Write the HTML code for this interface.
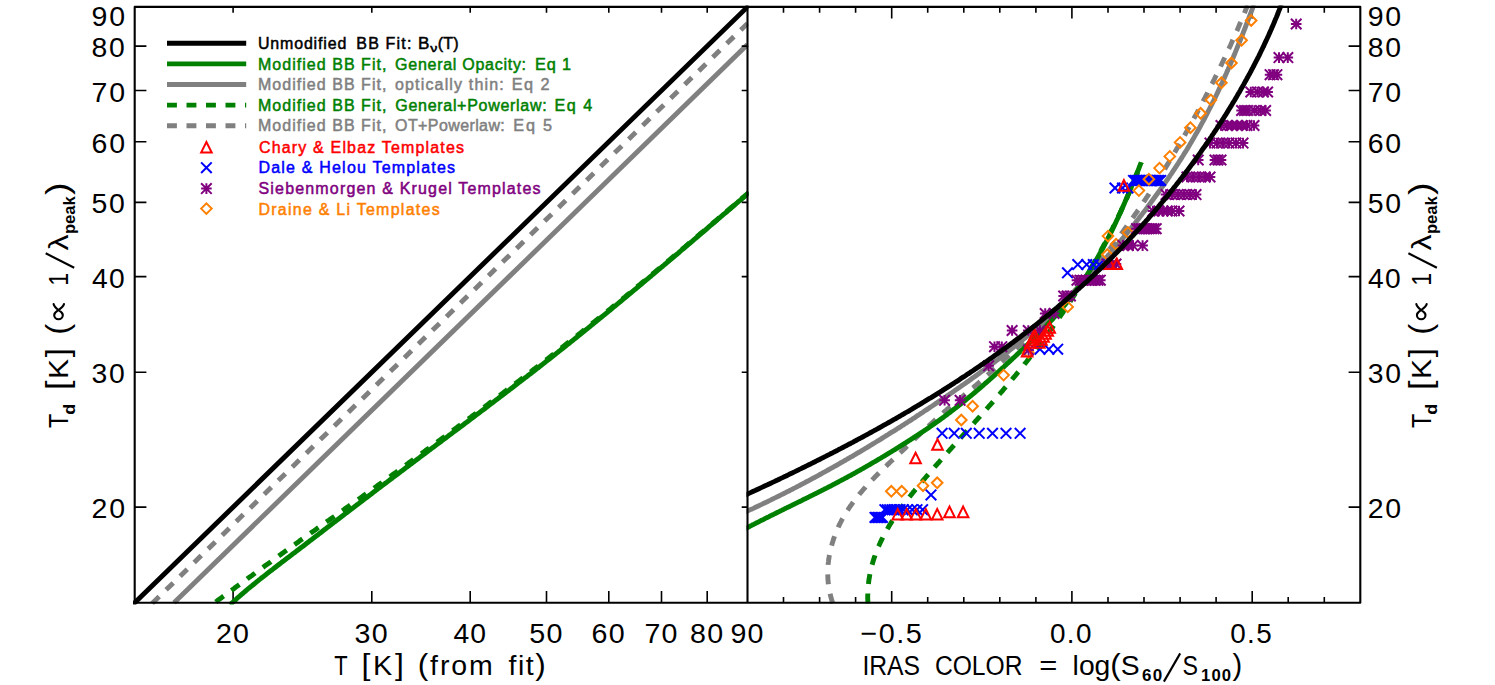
<!DOCTYPE html>
<html><head><meta charset="utf-8"><title>Dust temperature vs fit temperature and IRAS color</title>
<style>html,body{margin:0;padding:0;background:#fff}body{width:1495px;height:685px;overflow:hidden}svg{display:block}text{font-family:"Liberation Sans",sans-serif}</style></head>
<body>
<svg width="1495" height="685" viewBox="0 0 1495 685">
<defs>
<clipPath id="cl"><rect x="133.0" y="5.4" width="615.5" height="599.2"/></clipPath>
<clipPath id="cr"><rect x="746.5" y="5.4" width="614.8" height="598.9"/></clipPath>
</defs>
<rect width="1495" height="685" fill="#fff"/>
<path d="M134.7 507.1h11.7M1360.3 507.1h-11.7M134.7 372.3h11.7M1360.3 372.3h-11.7M134.7 276.6h11.7M1360.3 276.6h-11.7M134.7 202.4h11.7M1360.3 202.4h-11.7M134.7 141.7h11.7M1360.3 141.7h-11.7M134.7 90.5h11.7M1360.3 90.5h-11.7M134.7 46.1h11.7M1360.3 46.1h-11.7M233.1 602.8v-11.7M233.1 6.9v5.8M371.8 602.8v-11.7M371.8 6.9v5.8M470.2 602.8v-11.7M470.2 6.9v5.8M546.5 602.8v-11.7M546.5 6.9v5.8M608.8 602.8v-11.7M608.8 6.9v5.8M661.5 602.8v-11.7M661.5 6.9v5.8M707.2 602.8v-11.7M707.2 6.9v5.8M783.5 602.8v-5.8M783.5 6.9v5.8M819.6 602.8v-5.8M819.6 6.9v5.8M855.6 602.8v-5.8M855.6 6.9v5.8M891.7 602.8v-11.7M891.7 6.9v11.7M927.7 602.8v-5.8M927.7 6.9v5.8M963.8 602.8v-5.8M963.8 6.9v5.8M999.8 602.8v-5.8M999.8 6.9v5.8M1035.9 602.8v-5.8M1035.9 6.9v5.8M1071.9 602.8v-11.7M1071.9 6.9v11.7M1108.0 602.8v-5.8M1108.0 6.9v5.8M1144.0 602.8v-5.8M1144.0 6.9v5.8M1180.1 602.8v-5.8M1180.1 6.9v5.8M1216.1 602.8v-5.8M1216.1 6.9v5.8M1252.2 602.8v-11.7M1252.2 6.9v11.7M1288.2 602.8v-5.8M1288.2 6.9v5.8M1324.3 602.8v-5.8M1324.3 6.9v5.8" fill="none" stroke="#000" stroke-width="1.6"/>
<g clip-path="url(#cl)" fill="none" stroke-width="4.9" stroke-linecap="butt" stroke-linejoin="round">
<path d="M134.7 602.8 L747.5 6.9" stroke="#000" stroke-linecap="round"/>
<path d="M230.0 604.8 L231.6 603.3 L233.3 601.8 L234.9 600.3 L236.6 598.8 L238.2 597.3 L239.9 595.9 L241.6 594.4 L243.3 593.0 L244.9 591.6 L246.6 590.1 L248.3 588.7 L250.0 587.3 L251.8 585.9 L253.5 584.5 L255.2 583.1 L256.9 581.7 L258.6 580.3 L260.4 578.9 L262.1 577.5 L263.9 576.2 L265.6 574.8 L267.3 573.4 L269.1 572.1 L270.8 570.7 L272.6 569.4 L274.4 568.0 L276.1 566.7 L277.9 565.3 L279.6 564.0 L281.4 562.6 L283.2 561.3 L284.9 559.9 L286.7 558.6 L288.5 557.3 L290.2 555.9 L292.0 554.6 L293.7 553.2 L295.5 551.9 L297.3 550.5 L299.0 549.2 L300.8 547.8 L302.6 546.5 L304.3 545.2 L306.1 543.8 L307.8 542.5 L309.6 541.1 L311.4 539.8 L313.1 538.4 L314.9 537.1 L316.6 535.7 L318.4 534.4 L320.2 533.0 L321.9 531.7 L323.7 530.3 L325.4 529.0 L327.2 527.6 L329.0 526.3 L330.7 524.9 L332.5 523.6 L334.2 522.2 L336.0 520.9 L337.8 519.5 L339.5 518.2 L341.3 516.8 L343.0 515.5 L344.8 514.1 L346.6 512.8 L348.3 511.5 L350.1 510.1 L351.9 508.8 L353.6 507.4 L355.4 506.1 L357.1 504.7 L358.9 503.4 L360.7 502.0 L362.4 500.7 L364.2 499.3 L366.0 498.0 L367.7 496.7 L369.5 495.3 L371.3 494.0 L373.0 492.6 L374.8 491.3 L376.5 489.9 L378.3 488.6 L380.1 487.3 L381.9 485.9 L383.6 484.6 L385.4 483.2 L387.2 481.9 L388.9 480.6 L390.7 479.2 L392.5 477.9 L394.2 476.6 L396.0 475.2 L397.8 473.9 L399.6 472.6 L401.3 471.2 L403.1 469.9 L404.9 468.6 L406.6 467.2 L408.4 465.9 L410.2 464.6 L412.0 463.2 L413.7 461.9 L415.5 460.6 L417.3 459.2 L419.1 457.9 L420.8 456.6 L422.6 455.3 L424.4 453.9 L426.2 452.6 L427.9 451.3 L429.7 449.9 L431.5 448.6 L433.3 447.3 L435.0 445.9 L436.8 444.6 L438.6 443.3 L440.4 442.0 L442.1 440.6 L443.9 439.3 L445.7 438.0 L447.5 436.6 L449.2 435.3 L451.0 434.0 L452.8 432.6 L454.6 431.3 L456.3 430.0 L458.1 428.7 L459.9 427.3 L461.7 426.0 L463.4 424.7 L465.2 423.3 L467.0 422.0 L468.7 420.7 L470.5 419.3 L472.3 418.0 L474.1 416.7 L475.8 415.3 L477.6 414.0 L479.4 412.7 L481.1 411.3 L482.9 410.0 L484.7 408.7 L486.5 407.3 L488.2 406.0 L490.0 404.6 L491.8 403.3 L493.5 402.0 L495.3 400.6 L497.1 399.3 L498.8 397.9 L500.6 396.6 L502.4 395.3 L504.1 393.9 L505.9 392.6 L507.6 391.2 L509.4 389.9 L511.2 388.5 L512.9 387.2 L514.7 385.8 L516.4 384.5 L518.2 383.1 L520.0 381.8 L521.7 380.4 L523.5 379.1 L525.2 377.7 L527.0 376.4 L528.7 375.0 L530.5 373.7 L532.3 372.3 L534.0 371.0 L535.8 369.6 L537.5 368.2 L539.3 366.9 L541.0 365.5 L542.8 364.1 L544.5 362.8 L546.2 361.4 L548.0 360.0 L549.7 358.7 L551.5 357.3 L553.2 355.9 L555.0 354.6 L556.7 353.2 L558.4 351.8 L560.2 350.4 L561.9 349.0 L563.7 347.7 L565.4 346.3 L567.1 344.9 L568.9 343.5 L570.6 342.1 L572.3 340.8 L574.0 339.4 L575.8 338.0 L577.5 336.6 L579.2 335.2 L581.0 333.8 L582.7 332.4 L584.4 331.0 L586.1 329.6 L587.9 328.2 L589.6 326.8 L591.3 325.4 L593.0 324.0 L594.7 322.6 L596.5 321.2 L598.2 319.8 L599.9 318.4 L601.6 317.0 L603.3 315.6 L605.1 314.2 L606.8 312.8 L608.5 311.4 L610.2 310.0 L611.9 308.6 L613.6 307.2 L615.3 305.8 L617.0 304.4 L618.8 302.9 L620.5 301.5 L622.2 300.1 L623.9 298.7 L625.6 297.3 L627.3 295.9 L629.0 294.4 L630.7 293.0 L632.4 291.6 L634.1 290.2 L635.8 288.8 L637.5 287.4 L639.2 285.9 L640.9 284.5 L642.6 283.1 L644.3 281.7 L646.0 280.2 L647.7 278.8 L649.4 277.4 L651.1 276.0 L652.8 274.5 L654.5 273.1 L656.2 271.7 L657.9 270.2 L659.6 268.8 L661.3 267.4 L663.0 266.0 L664.7 264.5 L666.4 263.1 L668.1 261.7 L669.8 260.2 L671.5 258.8 L673.2 257.4 L674.9 255.9 L676.6 254.5 L678.3 253.1 L679.9 251.6 L681.6 250.2 L683.3 248.8 L685.0 247.3 L686.7 245.9 L688.4 244.4 L690.1 243.0 L691.8 241.6 L693.5 240.1 L695.2 238.7 L696.8 237.3 L698.5 235.8 L700.2 234.4 L701.9 232.9 L703.6 231.5 L705.3 230.1 L707.0 228.6 L708.6 227.2 L710.3 225.7 L712.0 224.3 L713.7 222.9 L715.4 221.4 L717.1 220.0 L718.8 218.5 L720.4 217.1 L722.1 215.7 L723.8 214.2 L725.5 212.8 L727.2 211.3 L728.9 209.9 L730.6 208.5 L732.2 207.0 L733.9 205.6 L735.6 204.1 L737.3 202.7 L739.0 201.2 L740.7 199.8 L742.3 198.4 L744.0 196.9 L745.7 195.5 L747.4 194.0 L749.1 192.6" stroke="#008000"/>
<path d="M174.0 602.8 L747.5 44.6" stroke="#808080"/>
<path d="M215.7 602.0 L217.5 600.6 L219.3 599.3 L221.1 598.0 L222.9 596.6 L224.7 595.3 L226.5 594.0 L228.3 592.6 L230.2 591.3 L232.0 590.0 L233.8 588.7 L235.6 587.3 L237.4 586.0 L239.2 584.7 L241.1 583.3 L242.9 582.0 L244.7 580.7 L246.5 579.4 L248.3 578.0 L250.1 576.7 L252.0 575.4 L253.8 574.1 L255.6 572.7 L257.4 571.4 L259.2 570.1 L261.1 568.8 L262.9 567.4 L264.7 566.1 L266.5 564.8 L268.4 563.5 L270.2 562.2 L272.0 560.8 L273.8 559.5 L275.6 558.2 L277.5 556.9 L279.3 555.6 L281.1 554.3 L282.9 552.9 L284.8 551.6 L286.6 550.3 L288.4 549.0 L290.3 547.7 L292.1 546.4 L293.9 545.1 L295.7 543.8 L297.6 542.5 L299.4 541.1 L301.2 539.8 L303.1 538.5 L304.9 537.2 L306.7 535.9 L308.6 534.6 L310.4 533.3 L312.2 532.0 L314.1 530.7 L315.9 529.4 L317.7 528.1 L319.6 526.8 L321.4 525.5 L323.2 524.2 L325.1 522.9 L326.9 521.6 L328.8 520.3 L330.6 519.0 L332.4 517.7 L334.3 516.4 L336.1 515.1 L337.9 513.8 L339.8 512.5 L341.6 511.2 L343.5 509.9 L345.3 508.6 L347.1 507.3 L349.0 506.0 L350.8 504.7 L352.6 503.4 L354.5 502.1 L356.3 500.8 L358.1 499.5 L360.0 498.2 L361.8 496.9 L363.6 495.6 L365.5 494.3 L367.3 493.0 L369.1 491.7 L370.9 490.4 L372.8 489.0 L374.6 487.7 L376.4 486.4 L378.2 485.1 L380.1 483.8 L381.9 482.5 L383.7 481.1 L385.5 479.8 L387.4 478.5 L389.2 477.2 L391.0 475.9 L392.8 474.5 L394.6 473.2 L396.5 471.9 L398.3 470.6 L400.1 469.2 L401.9 467.9 L403.7 466.6 L405.6 465.3 L407.4 463.9 L409.2 462.6 L411.0 461.3 L412.8 460.0 L414.6 458.6 L416.5 457.3 L418.3 456.0 L420.1 454.6 L421.9 453.3 L423.7 452.0 L425.5 450.6 L427.3 449.3 L429.2 448.0 L431.0 446.7 L432.8 445.3 L434.6 444.0 L436.4 442.6 L438.2 441.3 L440.0 440.0 L441.8 438.6 L443.7 437.3 L445.5 436.0 L447.3 434.6 L449.1 433.3 L450.9 432.0 L452.7 430.6 L454.5 429.3 L456.3 427.9 L458.1 426.6 L459.9 425.3 L461.7 423.9 L463.5 422.6 L465.4 421.2 L467.2 419.9 L469.0 418.5 L470.8 417.2 L472.6 415.8 L474.4 414.5 L476.2 413.2 L478.0 411.8 L479.8 410.5 L481.6 409.1 L483.4 407.8 L485.2 406.4 L487.0 405.1 L488.8 403.7 L490.6 402.3 L492.4 401.0 L494.2 399.6 L496.0 398.3 L497.8 396.9 L499.6 395.6 L501.4 394.2 L503.1 392.9 L504.9 391.5 L506.7 390.1 L508.5 388.8 L510.3 387.4 L512.1 386.0 L513.9 384.7 L515.7 383.3 L517.5 382.0 L519.3 380.6 L521.1 379.2 L522.8 377.9 L524.6 376.5 L526.4 375.1 L528.2 373.7 L530.0 372.4 L531.8 371.0 L533.5 369.6 L535.3 368.3 L537.1 366.9 L538.9 365.5 L540.7 364.1 L542.4 362.7 L544.2 361.4 L546.0 360.0 L547.8 358.6 L549.6 357.2 L551.3 355.8 L553.1 354.5 L554.9 353.1 L556.7 351.7 L558.4 350.3 L560.2 348.9 L562.0 347.5 L563.7 346.1 L565.5 344.7 L567.3 343.3 L569.0 342.0 L570.8 340.6 L572.6 339.2 L574.3 337.8 L576.1 336.4 L577.9 335.0 L579.6 333.6 L581.4 332.2 L583.1 330.8 L584.9 329.4 L586.7 328.0 L588.4 326.6 L590.2 325.1 L591.9 323.7 L593.7 322.3 L595.4 320.9 L597.2 319.5 L598.9 318.1 L600.7 316.7 L602.4 315.3 L604.2 313.8 L605.9 312.4 L607.7 311.0 L609.4 309.6 L611.2 308.2 L612.9 306.7 L614.7 305.3 L616.4 303.9 L618.1 302.5 L619.9 301.1 L621.6 299.6 L623.4 298.2 L625.1 296.8 L626.8 295.3 L628.6 293.9 L630.3 292.5 L632.0 291.0 L633.8 289.6 L635.5 288.2 L637.2 286.7 L639.0 285.3 L640.7 283.9 L642.4 282.4 L644.2 281.0 L645.9 279.6 L647.6 278.1 L649.4 276.7 L651.1 275.2 L652.8 273.8 L654.6 272.4 L656.3 270.9 L658.0 269.5 L659.7 268.0 L661.5 266.6 L663.2 265.1 L664.9 263.7 L666.6 262.2 L668.4 260.8 L670.1 259.4 L671.8 257.9 L673.5 256.5 L675.2 255.0 L677.0 253.6 L678.7 252.1 L680.4 250.7 L682.1 249.2 L683.8 247.8 L685.6 246.3 L687.3 244.8 L689.0 243.4 L690.7 241.9 L692.4 240.5 L694.2 239.0 L695.9 237.6 L697.6 236.1 L699.3 234.7 L701.0 233.2 L702.7 231.8 L704.5 230.3 L706.2 228.8 L707.9 227.4 L709.6 225.9 L711.3 224.5 L713.0 223.0 L714.7 221.6 L716.5 220.1 L718.2 218.6 L719.9 217.2 L721.6 215.7 L723.3 214.3 L725.0 212.8 L726.7 211.3 L728.5 209.9 L730.2 208.4 L731.9 207.0 L733.6 205.5 L735.3 204.0 L737.0 202.6 L738.7 201.1 L740.4 199.7 L742.2 198.2 L743.9 196.8 L745.6 195.3 L747.3 193.8 L749.0 192.4" stroke="#008000" stroke-dasharray="9.9 9.6"/>
<path d="M152.1 603.5 L747.5 23.4" stroke="#808080" stroke-dasharray="9.95 9.62"/>
</g>
<g clip-path="url(#cr)" fill="none">
<g stroke-width="4.9" stroke-linejoin="round">
<path d="M745.4 512.0 L747.1 511.2 L748.8 510.4 L750.5 509.6 L752.2 508.9 L753.9 508.1 L755.5 507.3 L757.2 506.5 L758.9 505.7 L760.6 504.9 L762.3 504.1 L763.9 503.3 L765.6 502.5 L767.3 501.7 L768.9 500.9 L770.6 500.1 L772.3 499.2 L773.9 498.4 L775.6 497.6 L777.3 496.8 L778.9 496.0 L780.6 495.1 L782.3 494.3 L783.9 493.5 L785.6 492.6 L787.2 491.8 L788.9 491.0 L790.5 490.1 L792.2 489.3 L793.8 488.4 L795.5 487.6 L797.1 486.7 L798.8 485.9 L800.4 485.0 L802.0 484.1 L803.7 483.3 L805.3 482.4 L806.9 481.5 L808.6 480.7 L810.2 479.8 L811.8 478.9 L813.5 478.0 L815.1 477.2 L816.7 476.3 L818.4 475.4 L820.0 474.5 L821.6 473.6 L823.2 472.7 L824.8 471.8 L826.5 470.9 L828.1 470.0 L829.7 469.1 L831.3 468.2 L832.9 467.3 L834.5 466.4 L836.2 465.5 L837.8 464.6 L839.4 463.7 L841.0 462.7 L842.6 461.8 L844.2 460.9 L845.8 460.0 L847.4 459.0 L849.0 458.1 L850.6 457.2 L852.2 456.3 L853.8 455.3 L855.4 454.4 L857.0 453.4 L858.6 452.5 L860.2 451.6 L861.8 450.6 L863.4 449.7 L864.9 448.7 L866.5 447.8 L868.1 446.8 L869.7 445.8 L871.3 444.9 L872.9 443.9 L874.4 443.0 L876.0 442.0 L877.6 441.0 L879.2 440.1 L880.8 439.1 L882.3 438.1 L883.9 437.1 L885.5 436.2 L887.1 435.2 L888.6 434.2 L890.2 433.2 L891.8 432.2 L893.3 431.3 L894.9 430.3 L896.5 429.3 L898.0 428.3 L899.6 427.3 L901.2 426.3 L902.7 425.3 L904.3 424.3 L905.8 423.3 L907.4 422.3 L908.9 421.3 L910.5 420.3 L912.1 419.3 L913.6 418.3 L915.2 417.3 L916.7 416.2 L918.3 415.2 L919.8 414.2 L921.4 413.2 L922.9 412.2 L924.5 411.1 L926.0 410.1 L927.5 409.1 L929.1 408.1 L930.6 407.0 L932.2 406.0 L933.7 405.0 L935.2 403.9 L936.8 402.9 L938.3 401.9 L939.9 400.8 L941.4 399.8 L942.9 398.7 L944.5 397.7 L946.0 396.7 L947.5 395.6 L949.1 394.6 L950.6 393.5 L952.1 392.5 L953.6 391.4 L955.2 390.3 L956.7 389.3 L958.2 388.2 L959.7 387.2 L961.3 386.1 L962.8 385.0 L964.3 384.0 L965.8 382.9 L967.3 381.8 L968.9 380.8 L970.4 379.7 L971.9 378.6 L973.4 377.5 L974.9 376.4 L976.4 375.4 L977.9 374.3 L979.4 373.2 L980.9 372.1 L982.4 371.0 L983.9 369.9 L985.4 368.8 L986.9 367.7 L988.4 366.6 L989.9 365.5 L991.4 364.4 L992.9 363.3 L994.3 362.2 L995.8 361.0 L997.3 359.9 L998.8 358.8 L1000.2 357.7 L1001.7 356.5 L1003.2 355.4 L1004.6 354.3 L1006.1 353.1 L1007.6 352.0 L1009.0 350.9 L1010.5 349.7 L1011.9 348.6 L1013.4 347.4 L1014.8 346.2 L1016.3 345.1 L1017.7 343.9 L1019.2 342.8 L1020.6 341.6 L1022.0 340.4 L1023.5 339.2 L1024.9 338.1 L1026.3 336.9 L1027.7 335.7 L1029.1 334.5 L1030.6 333.3 L1032.0 332.1 L1033.4 330.9 L1034.8 329.7 L1036.2 328.5 L1037.6 327.3 L1039.0 326.1 L1040.4 324.8 L1041.7 323.6 L1043.1 322.4 L1044.5 321.2 L1045.9 319.9 L1047.3 318.7 L1048.6 317.4 L1050.0 316.2 L1051.3 314.9 L1052.7 313.7 L1054.1 312.4 L1055.4 311.2 L1056.8 309.9 L1058.1 308.6 L1059.4 307.3 L1060.8 306.1 L1062.1 304.8 L1063.4 303.5 L1064.7 302.2 L1066.1 300.9 L1067.4 299.6 L1068.7 298.3 L1070.0 297.0 L1071.3 295.7 L1072.6 294.4 L1073.9 293.0 L1075.2 291.7 L1076.5 290.4 L1077.8 289.1 L1079.0 287.7 L1080.3 286.4 L1081.6 285.0 L1082.8 283.7 L1084.1 282.3 L1085.4 281.0 L1086.6 279.6 L1087.9 278.2 L1089.1 276.9 L1090.4 275.5 L1091.6 274.1 L1092.9 272.8 L1094.1 271.4 L1095.3 270.0 L1096.6 268.6 L1097.8 267.3 L1099.1 265.9 L1100.3 264.5 L1101.5 263.1 L1102.7 261.7 L1104.0 260.3 L1105.2 258.9 L1106.4 257.5 L1107.6 256.1 L1108.8 254.7 L1110.1 253.3 L1111.3 251.9 L1112.5 250.5 L1113.7 249.1 L1114.9 247.7 L1116.1 246.3 L1117.3 244.9 L1118.5 243.5 L1119.7 242.0 L1120.9 240.6 L1122.0 239.2 L1123.2 237.8 L1124.4 236.3 L1125.6 234.9 L1126.8 233.5 L1127.9 232.0 L1129.1 230.6 L1130.3 229.2 L1131.4 227.7 L1132.6 226.3 L1133.8 224.8 L1134.9 223.4 L1136.1 221.9 L1137.2 220.5 L1138.4 219.0 L1139.5 217.5 L1140.6 216.1 L1141.8 214.6 L1142.9 213.1 L1144.0 211.7 L1145.2 210.2 L1146.3 208.7 L1147.4 207.3 L1148.5 205.8 L1149.6 204.3 L1150.7 202.8 L1151.8 201.3 L1152.9 199.8 L1154.0 198.3 L1155.1 196.8 L1156.2 195.3 L1157.3 193.8 L1158.4 192.3 L1159.5 190.8 L1160.5 189.3 L1161.6 187.8 L1162.7 186.3 L1163.7 184.8 L1164.8 183.3 L1165.9 181.7 L1166.9 180.2 L1168.0 178.7 L1169.0 177.2 L1170.0 175.6 L1171.1 174.1 L1172.1 172.6 L1173.1 171.0 L1174.2 169.5 L1175.2 167.9 L1176.2 166.4 L1177.2 164.8 L1178.2 163.3 L1179.2 161.7 L1180.2 160.2 L1181.2 158.6 L1182.2 157.0 L1183.2 155.5 L1184.1 153.9 L1185.1 152.3 L1186.1 150.8 L1187.1 149.2 L1188.0 147.6 L1189.0 146.0 L1189.9 144.4 L1190.9 142.8 L1191.8 141.2 L1192.7 139.6 L1193.7 138.0 L1194.6 136.4 L1195.5 134.8 L1196.4 133.2 L1197.4 131.6 L1198.3 130.0 L1199.2 128.4 L1200.1 126.8 L1200.9 125.1 L1201.8 123.5 L1202.7 121.9 L1203.6 120.3 L1204.5 118.6 L1205.3 117.0 L1206.2 115.3 L1207.0 113.7 L1207.9 112.0 L1208.7 110.4 L1209.6 108.7 L1210.4 107.1 L1211.3 105.4 L1212.1 103.8 L1212.9 102.1 L1213.7 100.5 L1214.5 98.8 L1215.4 97.1 L1216.2 95.5 L1217.0 93.8 L1217.8 92.1 L1218.6 90.4 L1219.3 88.7 L1220.1 87.1 L1220.9 85.4 L1221.7 83.7 L1222.5 82.0 L1223.2 80.3 L1224.0 78.6 L1224.8 76.9 L1225.5 75.2 L1226.3 73.5 L1227.0 71.8 L1227.8 70.1 L1228.5 68.4 L1229.2 66.7 L1230.0 65.0 L1230.7 63.3 L1231.4 61.6 L1232.2 59.9 L1232.9 58.2 L1233.6 56.5 L1234.3 54.8 L1235.0 53.1 L1235.7 51.4 L1236.4 49.6 L1237.1 47.9 L1237.8 46.2 L1238.5 44.5 L1239.2 42.8 L1239.9 41.0 L1240.6 39.3 L1241.3 37.6 L1242.0 35.9 L1242.7 34.2 L1243.3 32.4 L1244.0 30.7 L1244.7 29.0 L1245.4 27.3 L1246.0 25.5 L1246.7 23.8 L1247.3 22.1 L1248.0 20.3 L1248.7 18.6 L1249.3 16.9 L1250.0 15.2 L1250.6 13.4 L1251.3 11.7 L1251.9 10.0 L1252.6 8.2 L1253.2 6.5 L1253.8 4.8" stroke="#808080"/>
<path d="M832.8 603.2 L832.3 601.8 L831.8 600.3 L831.4 598.8 L831.0 597.3 L830.6 595.9 L830.2 594.4 L829.9 592.9 L829.5 591.4 L829.2 589.9 L829.0 588.4 L828.7 586.9 L828.5 585.4 L828.3 583.9 L828.2 582.4 L828.1 580.9 L827.9 579.4 L827.9 577.9 L827.8 576.4 L827.8 574.9 L827.7 573.4 L827.7 571.9 L827.8 570.4 L827.8 568.9 L827.9 567.4 L828.0 565.9 L828.1 564.4 L828.3 563.0 L828.5 561.5 L828.6 560.0 L828.9 558.5 L829.1 557.0 L829.3 555.5 L829.6 554.0 L829.9 552.6 L830.2 551.1 L830.5 549.6 L830.9 548.2 L831.3 546.7 L831.7 545.3 L832.1 543.8 L832.5 542.4 L833.0 540.9 L833.4 539.5 L833.9 538.1 L834.4 536.7 L834.9 535.3 L835.5 533.8 L836.0 532.5 L836.6 531.1 L837.2 529.7 L837.8 528.3 L838.4 526.9 L839.0 525.6 L839.7 524.2 L840.3 522.9 L841.0 521.6 L841.7 520.2 L842.4 518.9 L843.1 517.6 L843.9 516.3 L844.6 515.0 L845.4 513.8 L846.2 512.5 L847.0 511.2 L847.8 510.0 L848.6 508.7 L849.4 507.5 L850.2 506.3 L851.1 505.1 L852.0 503.8 L852.8 502.6 L853.7 501.4 L854.6 500.3 L855.5 499.1 L856.4 497.9 L857.4 496.7 L858.3 495.6 L859.2 494.4 L860.2 493.2 L861.2 492.1 L862.1 491.0 L863.1 489.8 L864.1 488.7 L865.1 487.6 L866.1 486.4 L867.1 485.3 L868.1 484.2 L869.1 483.1 L870.2 482.0 L871.2 480.9 L872.2 479.8 L873.3 478.8 L874.3 477.7 L875.4 476.6 L876.5 475.5 L877.5 474.4 L878.6 473.4 L879.7 472.3 L880.8 471.2 L881.8 470.2 L882.9 469.1 L884.0 468.1 L885.1 467.0 L886.2 466.0 L887.3 464.9 L888.4 463.9 L889.5 462.8 L890.6 461.8 L891.7 460.8 L892.8 459.7 L893.9 458.7 L895.0 457.7 L896.1 456.6 L897.2 455.6 L898.3 454.6 L899.4 453.5 L900.5 452.5 L901.6 451.5 L902.7 450.4 L903.8 449.4 L904.9 448.4 L906.0 447.3 L907.1 446.3 L908.2 445.3 L909.3 444.2 L910.4 443.2 L911.5 442.2 L912.6 441.1 L913.6 440.1 L914.7 439.1 L915.8 438.0 L916.9 437.0 L918.0 436.0 L919.1 435.0 L920.1 433.9 L921.2 432.9 L922.3 431.9 L923.4 430.8 L924.5 429.8 L925.6 428.8 L926.7 427.8 L927.7 426.8 L928.8 425.7 L929.9 424.7 L931.0 423.7 L932.1 422.7 L933.2 421.7 L934.3 420.7 L935.4 419.7 L936.5 418.7 L937.6 417.7 L938.7 416.7 L939.8 415.7 L940.9 414.7 L942.1 413.7 L943.2 412.7 L944.3 411.7 L945.4 410.8 L946.6 409.8 L947.7 408.8 L948.8 407.8 L950.0 406.9 L951.1 405.9 L952.3 404.9 L953.4 404.0 L954.6 403.0 L955.7 402.1 L956.9 401.1 L958.0 400.1 L959.2 399.2 L960.4 398.2 L961.5 397.3 L962.7 396.3 L963.8 395.4 L965.0 394.4 L966.2 393.4 L967.3 392.5 L968.5 391.5 L969.6 390.6 L970.8 389.6 L971.9 388.6 L973.1 387.7 L974.2 386.7 L975.4 385.7 L976.5 384.7 L977.7 383.8 L978.8 382.8 L979.9 381.8 L981.1 380.8 L982.2 379.8 L983.3 378.8 L984.4 377.8 L985.6 376.8 L986.7 375.8 L987.8 374.8 L988.9 373.8 L990.0 372.8 L991.1 371.8 L992.2 370.8 L993.3 369.8 L994.4 368.7 L995.6 367.7 L996.7 366.7 L997.8 365.7 L998.9 364.7 L1000.0 363.6 L1001.1 362.6 L1002.2 361.6 L1003.3 360.6 L1004.4 359.6 L1005.5 358.5 L1006.6 357.5 L1007.7 356.5 L1008.8 355.5 L1009.9 354.5 L1011.0 353.4 L1012.1 352.4 L1013.2 351.4 L1014.3 350.4 L1015.4 349.4 L1016.5 348.4 L1017.6 347.3 L1018.7 346.3 L1019.8 345.3 L1020.9 344.3 L1022.0 343.3 L1023.2 342.3 L1024.3 341.2 L1025.4 340.2 L1026.5 339.2 L1027.6 338.2 L1028.7 337.1 L1029.8 336.1 L1030.9 335.1 L1032.0 334.1 L1033.1 333.0 L1034.1 332.0 L1035.2 331.0 L1036.3 329.9 L1037.4 328.9 L1038.5 327.9 L1039.6 326.8 L1040.7 325.8 L1041.7 324.7 L1042.8 323.7 L1043.9 322.7 L1045.0 321.6 L1046.0 320.6 L1047.1 319.5 L1048.2 318.4 L1049.2 317.4 L1050.3 316.3 L1051.4 315.3 L1052.4 314.2 L1053.5 313.1 L1054.5 312.1 L1055.6 311.0 L1056.6 309.9 L1057.7 308.8 L1058.7 307.8 L1059.7 306.7 L1060.8 305.6 L1061.8 304.5 L1062.9 303.4 L1063.9 302.3 L1064.9 301.2 L1065.9 300.1 L1067.0 299.0 L1068.0 297.9 L1069.0 296.8 L1070.0 295.7 L1071.0 294.6 L1072.1 293.5 L1073.1 292.4 L1074.1 291.3 L1075.1 290.2 L1076.1 289.1 L1077.1 288.0 L1078.1 286.9 L1079.1 285.7 L1080.1 284.6 L1081.1 283.5 L1082.1 282.4 L1083.0 281.2 L1084.0 280.1 L1085.0 279.0 L1086.0 277.8 L1087.0 276.7 L1087.9 275.6 L1088.9 274.4 L1089.9 273.3 L1090.9 272.1 L1091.8 271.0 L1092.8 269.8 L1093.8 268.7 L1094.7 267.5 L1095.7 266.4 L1096.6 265.2 L1097.6 264.1 L1098.5 262.9 L1099.5 261.8 L1100.4 260.6 L1101.4 259.4 L1102.3 258.3 L1103.3 257.1 L1104.2 255.9 L1105.1 254.7 L1106.1 253.6 L1107.0 252.4 L1107.9 251.2 L1108.8 250.0 L1109.8 248.9 L1110.7 247.7 L1111.6 246.5 L1112.5 245.3 L1113.4 244.1 L1114.4 242.9 L1115.3 241.7 L1116.2 240.5 L1117.1 239.3 L1118.0 238.1 L1118.9 236.9 L1119.8 235.7 L1120.7 234.5 L1121.6 233.3 L1122.5 232.1 L1123.4 230.9 L1124.2 229.7 L1125.1 228.5 L1126.0 227.3 L1126.9 226.0 L1127.8 224.8 L1128.6 223.6 L1129.5 222.4 L1130.4 221.2 L1131.3 219.9 L1132.1 218.7 L1133.0 217.5 L1133.9 216.3 L1134.7 215.0 L1135.6 213.8 L1136.4 212.6 L1137.3 211.3 L1138.1 210.1 L1139.0 208.9 L1139.8 207.6 L1140.7 206.4 L1141.5 205.1 L1142.4 203.9 L1143.2 202.6 L1144.0 201.4 L1144.9 200.1 L1145.7 198.9 L1146.5 197.6 L1147.4 196.4 L1148.2 195.1 L1149.0 193.9 L1149.8 192.6 L1150.6 191.4 L1151.5 190.1 L1152.3 188.8 L1153.1 187.6 L1153.9 186.3 L1154.7 185.0 L1155.5 183.8 L1156.3 182.5 L1157.1 181.2 L1157.9 180.0 L1158.7 178.7 L1159.5 177.4 L1160.3 176.1 L1161.1 174.9 L1161.9 173.6 L1162.7 172.3 L1163.5 171.0 L1164.3 169.8 L1165.1 168.5 L1165.9 167.2 L1166.6 165.9 L1167.4 164.6 L1168.2 163.3 L1169.0 162.0 L1169.7 160.8 L1170.5 159.5 L1171.3 158.2 L1172.1 156.9 L1172.8 155.6 L1173.6 154.3 L1174.4 153.0 L1175.1 151.7 L1175.9 150.4 L1176.6 149.1 L1177.4 147.8 L1178.2 146.5 L1178.9 145.2 L1179.7 143.9 L1180.4 142.6 L1181.2 141.3 L1181.9 140.0 L1182.6 138.7 L1183.4 137.4 L1184.1 136.1 L1184.9 134.8 L1185.6 133.5 L1186.3 132.2 L1187.1 130.9 L1187.8 129.6 L1188.5 128.3 L1189.3 126.9 L1190.0 125.6 L1190.7 124.3 L1191.5 123.0 L1192.2 121.7 L1192.9 120.4 L1193.6 119.1 L1194.3 117.7 L1195.0 116.4 L1195.8 115.1 L1196.5 113.8 L1197.2 112.5 L1197.9 111.1 L1198.6 109.8 L1199.3 108.5 L1200.0 107.2 L1200.7 105.8 L1201.4 104.5 L1202.1 103.2 L1202.8 101.9 L1203.5 100.5 L1204.2 99.2 L1204.9 97.9 L1205.6 96.5 L1206.3 95.2 L1207.0 93.9 L1207.6 92.5 L1208.3 91.2 L1209.0 89.9 L1209.7 88.5 L1210.4 87.2 L1211.0 85.8 L1211.7 84.5 L1212.4 83.2 L1213.0 81.8 L1213.7 80.5 L1214.4 79.1 L1215.0 77.8 L1215.7 76.4 L1216.4 75.1 L1217.0 73.8 L1217.7 72.4 L1218.3 71.1 L1219.0 69.7 L1219.6 68.4 L1220.3 67.0 L1220.9 65.7 L1221.6 64.3 L1222.2 62.9 L1222.9 61.6 L1223.5 60.2 L1224.2 58.9 L1224.8 57.5 L1225.4 56.2 L1226.1 54.8 L1226.7 53.4 L1227.3 52.1 L1228.0 50.7 L1228.6 49.3 L1229.2 48.0 L1229.8 46.6 L1230.5 45.3 L1231.1 43.9 L1231.7 42.5 L1232.3 41.1 L1232.9 39.8 L1233.5 38.4 L1234.1 37.0 L1234.8 35.7 L1235.4 34.3 L1236.0 32.9 L1236.6 31.5 L1237.2 30.2 L1237.8 28.8 L1238.4 27.4 L1239.0 26.0 L1239.5 24.6 L1240.1 23.3 L1240.7 21.9 L1241.3 20.5 L1241.9 19.1 L1242.5 17.7 L1243.1 16.3 L1243.6 15.0 L1244.2 13.6 L1244.8 12.2 L1245.4 10.8 L1245.9 9.4 L1246.5 8.0 L1247.1 6.6 L1247.7 5.2" stroke="#808080" stroke-dasharray="9.9 9.6"/>
<path d="M867.9 603.4 L867.8 602.2 L867.8 601.1 L867.8 600.0 L867.7 598.9 L867.7 597.7 L867.7 596.6 L867.7 595.5 L867.8 594.4 L867.8 593.3 L867.8 592.2 L867.9 591.1 L867.9 590.0 L868.0 589.0 L868.1 587.9 L868.2 586.8 L868.3 585.7 L868.4 584.6 L868.5 583.6 L868.6 582.5 L868.7 581.5 L868.9 580.4 L869.0 579.3 L869.2 578.3 L869.4 577.3 L869.5 576.2 L869.7 575.2 L869.9 574.1 L870.1 573.1 L870.3 572.1 L870.6 571.1 L870.8 570.0 L871.0 569.0 L871.3 568.0 L871.5 567.0 L871.8 566.0 L872.0 565.0 L872.3 564.0 L872.6 563.0 L872.9 562.0 L873.2 561.0 L873.5 560.0 L873.8 559.0 L874.1 558.0 L874.5 557.1 L874.8 556.1 L875.1 555.1 L875.5 554.1 L875.9 553.2 L876.2 552.2 L876.6 551.3 L877.0 550.3 L877.4 549.3 L877.7 548.4 L878.1 547.4 L878.5 546.5 L879.0 545.5 L879.4 544.6 L879.8 543.7 L880.2 542.7 L880.7 541.8 L881.1 540.9 L881.6 539.9 L882.0 539.0 L882.5 538.1 L882.9 537.2 L883.4 536.2 L883.9 535.3 L884.4 534.4 L884.8 533.5 L885.3 532.6 L885.8 531.7 L886.3 530.8 L886.9 529.9 L887.4 529.0 L887.9 528.1 L888.4 527.2 L888.9 526.3 L889.5 525.4 L890.0 524.5 L890.6 523.6 L891.1 522.8 L891.7 521.9 L892.2 521.0 L892.8 520.1 L893.3 519.2 L893.9 518.4 L894.5 517.5 L895.1 516.6 L895.7 515.8 L896.2 514.9 L896.8 514.0 L897.4 513.2 L898.0 512.3 L898.6 511.5 L899.2 510.6 L899.8 509.7 L900.5 508.9 L901.1 508.0 L901.7 507.2 L902.3 506.3 L902.9 505.5 L903.6 504.6 L904.2 503.8 L904.8 503.0 L905.5 502.1 L906.1 501.3 L906.8 500.4 L907.4 499.6 L908.1 498.8 L908.7 497.9 L909.4 497.1 L910.0 496.3 L910.7 495.5 L911.3 494.6 L912.0 493.8 L912.7 493.0 L913.3 492.1 L914.0 491.3 L914.7 490.5 L915.3 489.7 L916.0 488.9 L916.7 488.0 L917.4 487.2 L918.1 486.4 L918.7 485.6 L919.4 484.8 L920.1 484.0 L920.8 483.1 L921.5 482.3 L922.2 481.5 L922.9 480.7 L923.5 479.9 L924.2 479.1 L924.9 478.3 L925.6 477.5 L926.3 476.7 L927.0 475.9 L927.7 475.1 L928.4 474.3 L929.1 473.5 L929.8 472.6 L930.5 471.8 L931.2 471.0 L931.9 470.2 L932.6 469.4 L933.3 468.6 L934.0 467.8 L934.7 467.0 L935.4 466.2 L936.1 465.4 L936.8 464.6 L937.5 463.8 L938.2 463.1 L938.9 462.3 L939.6 461.5 L940.3 460.7 L941.0 459.9 L941.7 459.1 L942.4 458.3 L943.1 457.5 L943.8 456.7 L944.5 455.9 L945.2 455.1 L945.9 454.3 L946.6 453.5 L947.3 452.7 L948.0 451.9 L948.7 451.2 L949.4 450.4 L950.1 449.6 L950.9 448.8 L951.6 448.0 L952.3 447.2 L953.0 446.4 L953.7 445.6 L954.4 444.8 L955.1 444.0 L955.8 443.3 L956.5 442.5 L957.2 441.7 L957.9 440.9 L958.6 440.1 L959.3 439.3 L960.1 438.5 L960.8 437.7 L961.5 437.0 L962.2 436.2 L962.9 435.4 L963.6 434.6 L964.3 433.8 L965.0 433.0 L965.7 432.2 L966.4 431.5 L967.1 430.7 L967.8 429.9 L968.6 429.1 L969.3 428.3 L970.0 427.5 L970.7 426.7 L971.4 425.9 L972.1 425.2 L972.8 424.4 L973.5 423.6 L974.2 422.8 L974.9 422.0 L975.6 421.2 L976.3 420.4 L977.0 419.7 L977.7 418.9 L978.4 418.1 L979.2 417.3 L979.9 416.5 L980.6 415.7 L981.3 414.9 L982.0 414.1 L982.7 413.3 L983.4 412.6 L984.1 411.8 L984.8 411.0 L985.5 410.2 L986.2 409.4 L986.9 408.6 L987.6 407.8 L988.3 407.0 L989.0 406.2 L989.7 405.4 L990.4 404.7 L991.1 403.9 L991.8 403.1 L992.5 402.3 L993.2 401.5 L993.9 400.7 L994.6 399.9 L995.3 399.1 L995.9 398.3 L996.6 397.5 L997.3 396.7 L998.0 395.9 L998.7 395.1 L999.4 394.3 L1000.1 393.5 L1000.8 392.7 L1001.5 391.9 L1002.2 391.1 L1002.9 390.3 L1003.5 389.5 L1004.2 388.7 L1004.9 387.9 L1005.6 387.1 L1006.3 386.3 L1007.0 385.5 L1007.7 384.7 L1008.3 383.9 L1009.0 383.1 L1009.7 382.3 L1010.4 381.5 L1011.1 380.7 L1011.7 379.9 L1012.4 379.0 L1013.1 378.2 L1013.8 377.4 L1014.4 376.6 L1015.1 375.8 L1015.8 375.0 L1016.5 374.2 L1017.1 373.4 L1017.8 372.5 L1018.5 371.7 L1019.1 370.9 L1019.8 370.1 L1020.5 369.3 L1021.1 368.4 L1021.8 367.6 L1022.5 366.8 L1023.1 366.0 L1023.8 365.2 L1024.4 364.3 L1025.1 363.5 L1025.8 362.7 L1026.4 361.9 L1027.1 361.0 L1027.7 360.2 L1028.4 359.4 L1029.0 358.5 L1029.7 357.7 L1030.3 356.9 L1031.0 356.1 L1031.6 355.2 L1032.3 354.4 L1032.9 353.6 L1033.6 352.7 L1034.2 351.9 L1034.9 351.0 L1035.5 350.2 L1036.2 349.4 L1036.8 348.5 L1037.4 347.7 L1038.1 346.9 L1038.7 346.0 L1039.3 345.2 L1040.0 344.3 L1040.6 343.5 L1041.3 342.6 L1041.9 341.8 L1042.5 340.9 L1043.1 340.1 L1043.8 339.3 L1044.4 338.4 L1045.0 337.6 L1045.7 336.7 L1046.3 335.9 L1046.9 335.0 L1047.5 334.1 L1048.2 333.3 L1048.8 332.4 L1049.4 331.6 L1050.0 330.7 L1050.6 329.9 L1051.2 329.0 L1051.9 328.2 L1052.5 327.3 L1053.1 326.4 L1053.7 325.6 L1054.3 324.7 L1054.9 323.9 L1055.5 323.0 L1056.1 322.1 L1056.7 321.3 L1057.4 320.4 L1058.0 319.5 L1058.6 318.7 L1059.2 317.8 L1059.8 316.9 L1060.4 316.1 L1061.0 315.2 L1061.6 314.3 L1062.2 313.5 L1062.8 312.6 L1063.3 311.7 L1063.9 310.8 L1064.5 310.0 L1065.1 309.1 L1065.7 308.2 L1066.3 307.3 L1066.9 306.5 L1067.5 305.6 L1068.1 304.7 L1068.6 303.8 L1069.2 302.9 L1069.8 302.1 L1070.4 301.2 L1071.0 300.3 L1071.5 299.4 L1072.1 298.5 L1072.7 297.6 L1073.3 296.8 L1073.8 295.9 L1074.4 295.0 L1075.0 294.1 L1075.5 293.2 L1076.1 292.3 L1076.7 291.4 L1077.2 290.5 L1077.8 289.6 L1078.4 288.8 L1078.9 287.9 L1079.5 287.0 L1080.1 286.1 L1080.6 285.2 L1081.2 284.3 L1081.7 283.4 L1082.3 282.5 L1082.8 281.6 L1083.4 280.7 L1083.9 279.8 L1084.5 278.9 L1085.0 278.0 L1085.6 277.1 L1086.1 276.2 L1086.7 275.3 L1087.2 274.4 L1087.8 273.5 L1088.3 272.6 L1088.8 271.6 L1089.4 270.7 L1089.9 269.8 L1090.4 268.9 L1091.0 268.0 L1091.5 267.1 L1092.0 266.2 L1092.6 265.3 L1093.1 264.4 L1093.6 263.5 L1094.1 262.5 L1094.7 261.6 L1095.2 260.7 L1095.7 259.8 L1096.2 258.9 L1096.8 258.0 L1097.3 257.0 L1097.8 256.1 L1098.3 255.2 L1098.8 254.3 L1099.3 253.3 L1099.8 252.4 L1100.4 251.5 L1100.9 250.6 L1101.4 249.7 L1101.9 248.7 L1102.4 247.8 L1102.9 246.9 L1103.4 245.9 L1103.9 245.0 L1104.4 244.1 L1104.9 243.2 L1105.4 242.2 L1105.9 241.3 L1106.4 240.4 L1106.9 239.4 L1107.3 238.5 L1107.8 237.6 L1108.3 236.6 L1108.8 235.7 L1109.3 234.7 L1109.8 233.8 L1110.3 232.9 L1110.7 231.9 L1111.2 231.0 L1111.7 230.0 L1112.2 229.1 L1112.7 228.2 L1113.1 227.2 L1113.6 226.3 L1114.1 225.3 L1114.5 224.4 L1115.0 223.4 L1115.5 222.5 L1115.9 221.5 L1116.4 220.6 L1116.9 219.6 L1117.3 218.7 L1117.8 217.7 L1118.2 216.8 L1118.7 215.8 L1119.1 214.9 L1119.6 213.9 L1120.1 213.0 L1120.5 212.0 L1121.0 211.1 L1121.4 210.1 L1121.8 209.2 L1122.3 208.2 L1122.7 207.2 L1123.2 206.3 L1123.6 205.3 L1124.1 204.4 L1124.5 203.4 L1124.9 202.4 L1125.4 201.5 L1125.8 200.5 L1126.2 199.5 L1126.6 198.6 L1127.1 197.6 L1127.5 196.7 L1127.9 195.7 L1128.3 194.7 L1128.8 193.7 L1129.2 192.8 L1129.6 191.8 L1130.0 190.8 L1130.4 189.9 L1130.9 188.9 L1131.3 187.9 L1131.7 186.9 L1132.1 186.0 L1132.5 185.0 L1132.9 184.0 L1133.3 183.0 L1133.7 182.1 L1134.1 181.1 L1134.5 180.1 L1134.9 179.1 L1135.3 178.1 L1135.7 177.2 L1136.1 176.2 L1136.5 175.2 L1136.9 174.2 L1137.3 173.2 L1137.7 172.2 L1138.0 171.3 L1138.4 170.3 L1138.8 169.3 L1139.2 168.3 L1139.6 167.3 L1139.9 166.3 L1140.3 165.3 L1140.7 164.3 L1141.1 163.4 L1141.4 162.4" stroke="#008000" stroke-dasharray="9.9 9.6"/>
<path d="M745.5 528.6 L746.7 527.9 L748.0 527.3 L749.2 526.7 L750.4 526.0 L751.7 525.4 L752.9 524.7 L754.2 524.1 L755.4 523.5 L756.6 522.8 L757.9 522.2 L759.1 521.6 L760.4 520.9 L761.6 520.3 L762.9 519.7 L764.1 519.1 L765.3 518.4 L766.6 517.8 L767.8 517.2 L769.1 516.6 L770.3 515.9 L771.6 515.3 L772.8 514.7 L774.1 514.1 L775.3 513.5 L776.6 512.8 L777.8 512.2 L779.1 511.6 L780.3 511.0 L781.6 510.4 L782.8 509.8 L784.1 509.1 L785.3 508.5 L786.6 507.9 L787.8 507.3 L789.1 506.7 L790.3 506.1 L791.6 505.5 L792.8 504.8 L794.1 504.2 L795.3 503.6 L796.6 503.0 L797.8 502.4 L799.1 501.8 L800.3 501.2 L801.6 500.6 L802.8 499.9 L804.0 499.3 L805.3 498.7 L806.5 498.1 L807.8 497.5 L809.0 496.9 L810.3 496.2 L811.5 495.6 L812.8 495.0 L814.0 494.4 L815.3 493.8 L816.5 493.1 L817.8 492.5 L819.0 491.9 L820.2 491.3 L821.5 490.6 L822.7 490.0 L824.0 489.4 L825.2 488.7 L826.5 488.1 L827.7 487.5 L828.9 486.8 L830.2 486.2 L831.4 485.6 L832.6 484.9 L833.9 484.3 L835.1 483.6 L836.3 483.0 L837.6 482.3 L838.8 481.7 L840.0 481.0 L841.3 480.4 L842.5 479.7 L843.7 479.1 L845.0 478.4 L846.2 477.8 L847.4 477.1 L848.6 476.4 L849.9 475.8 L851.1 475.1 L852.3 474.4 L853.5 473.8 L854.7 473.1 L856.0 472.4 L857.2 471.7 L858.4 471.0 L859.6 470.4 L860.8 469.7 L862.0 469.0 L863.2 468.3 L864.4 467.6 L865.7 466.9 L866.9 466.2 L868.1 465.5 L869.3 464.8 L870.5 464.1 L871.7 463.4 L872.9 462.7 L874.1 462.0 L875.3 461.3 L876.5 460.6 L877.7 459.9 L878.9 459.2 L880.1 458.5 L881.3 457.8 L882.5 457.0 L883.7 456.3 L884.9 455.6 L886.1 454.9 L887.3 454.2 L888.5 453.4 L889.7 452.7 L890.8 452.0 L892.0 451.3 L893.2 450.5 L894.4 449.8 L895.6 449.1 L896.8 448.3 L898.0 447.6 L899.2 446.9 L900.3 446.1 L901.5 445.4 L902.7 444.6 L903.9 443.9 L905.1 443.2 L906.2 442.4 L907.4 441.7 L908.6 440.9 L909.8 440.2 L910.9 439.4 L912.1 438.7 L913.3 437.9 L914.5 437.1 L915.6 436.4 L916.8 435.6 L918.0 434.9 L919.1 434.1 L920.3 433.3 L921.4 432.6 L922.6 431.8 L923.8 431.0 L924.9 430.2 L926.1 429.5 L927.2 428.7 L928.4 427.9 L929.5 427.1 L930.7 426.3 L931.8 425.5 L932.9 424.7 L934.1 423.9 L935.2 423.1 L936.4 422.3 L937.5 421.5 L938.6 420.7 L939.8 419.9 L940.9 419.1 L942.0 418.3 L943.1 417.5 L944.3 416.6 L945.4 415.8 L946.5 415.0 L947.6 414.1 L948.7 413.3 L949.8 412.5 L950.9 411.6 L952.0 410.8 L953.1 409.9 L954.2 409.1 L955.3 408.2 L956.4 407.4 L957.5 406.5 L958.6 405.7 L959.7 404.8 L960.8 403.9 L961.9 403.1 L963.0 402.2 L964.1 401.3 L965.1 400.5 L966.2 399.6 L967.3 398.7 L968.4 397.8 L969.4 396.9 L970.5 396.1 L971.6 395.2 L972.6 394.3 L973.7 393.4 L974.8 392.5 L975.8 391.6 L976.9 390.7 L978.0 389.8 L979.0 388.9 L980.1 388.0 L981.1 387.1 L982.2 386.2 L983.2 385.2 L984.3 384.3 L985.3 383.4 L986.4 382.5 L987.4 381.6 L988.5 380.7 L989.5 379.7 L990.6 378.8 L991.6 377.9 L992.6 377.0 L993.7 376.0 L994.7 375.1 L995.8 374.2 L996.8 373.2 L997.8 372.3 L998.9 371.4 L999.9 370.4 L1000.9 369.5 L1001.9 368.5 L1003.0 367.6 L1004.0 366.7 L1005.0 365.7 L1006.1 364.8 L1007.1 363.8 L1008.1 362.9 L1009.1 361.9 L1010.2 361.0 L1011.2 360.0 L1012.2 359.1 L1013.2 358.1 L1014.2 357.2 L1015.3 356.2 L1016.3 355.3 L1017.3 354.3 L1018.3 353.4 L1019.3 352.4 L1020.3 351.4 L1021.4 350.5 L1022.4 349.5 L1023.4 348.6 L1024.4 347.6 L1025.4 346.6 L1026.4 345.7 L1027.4 344.7 L1028.4 343.7 L1029.4 342.8 L1030.4 341.8 L1031.4 340.8 L1032.4 339.9 L1033.4 338.9 L1034.4 337.9 L1035.4 336.9 L1036.4 336.0 L1037.4 335.0 L1038.4 334.0 L1039.4 333.0 L1040.3 332.0 L1041.3 331.0 L1042.3 330.0 L1043.3 329.0 L1044.2 328.0 L1045.2 327.0 L1046.2 326.0 L1047.1 325.0 L1048.1 324.0 L1049.0 323.0 L1050.0 321.9 L1050.9 320.9 L1051.8 319.9 L1052.8 318.9 L1053.7 317.8 L1054.6 316.8 L1055.6 315.8 L1056.5 314.7 L1057.4 313.7 L1058.3 312.6 L1059.2 311.6 L1060.1 310.5 L1061.0 309.5 L1061.9 308.4 L1062.8 307.3 L1063.7 306.3 L1064.6 305.2 L1065.5 304.1 L1066.4 303.1 L1067.2 302.0 L1068.1 300.9 L1069.0 299.8 L1069.8 298.7 L1070.7 297.6 L1071.5 296.5 L1072.4 295.4 L1073.2 294.3 L1074.1 293.2 L1074.9 292.1 L1075.7 291.0 L1076.6 289.9 L1077.4 288.8 L1078.2 287.6 L1079.0 286.5 L1079.8 285.4 L1080.6 284.3 L1081.4 283.1 L1082.2 282.0 L1083.0 280.8 L1083.8 279.7 L1084.6 278.5 L1085.3 277.4 L1086.1 276.2 L1086.9 275.1 L1087.6 273.9 L1088.4 272.7 L1089.1 271.6 L1089.9 270.4 L1090.6 269.2 L1091.4 268.0 L1092.1 266.9 L1092.8 265.7 L1093.5 264.5 L1094.2 263.3 L1095.0 262.1 L1095.7 260.9 L1096.4 259.7 L1097.1 258.5 L1097.8 257.3 L1098.5 256.1 L1099.1 254.9 L1099.8 253.6 L1100.5 252.4 L1101.2 251.2 L1101.8 250.0 L1102.5 248.8 L1103.2 247.5 L1103.8 246.3 L1104.5 245.1 L1105.1 243.8 L1105.8 242.6 L1106.4 241.4 L1107.1 240.1 L1107.7 238.9 L1108.3 237.6 L1109.0 236.4 L1109.6 235.1 L1110.2 233.9 L1110.9 232.6 L1111.5 231.4 L1112.1 230.1 L1112.7 228.9 L1113.3 227.6 L1113.9 226.4 L1114.5 225.1 L1115.1 223.8 L1115.7 222.6 L1116.3 221.3 L1116.9 220.0 L1117.5 218.8 L1118.1 217.5 L1118.6 216.2 L1119.2 215.0 L1119.8 213.7 L1120.4 212.4 L1121.0 211.2 L1121.5 209.9 L1122.1 208.6 L1122.7 207.3 L1123.2 206.0 L1123.8 204.8 L1124.3 203.5 L1124.9 202.2 L1125.4 200.9 L1126.0 199.6 L1126.5 198.4 L1127.1 197.1 L1127.6 195.8 L1128.2 194.5 L1128.7 193.2 L1129.3 191.9 L1129.8 190.7 L1130.3 189.4 L1130.9 188.1 L1131.4 186.8 L1131.9 185.5 L1132.5 184.2 L1133.0 182.9 L1133.5 181.7 L1134.0 180.4 L1134.6 179.1 L1135.1 177.8 L1135.6 176.5 L1136.1 175.2 L1136.6 173.9 L1137.1 172.6 L1137.7 171.4 L1138.2 170.1 L1138.7 168.8 L1139.2 167.5 L1139.7 166.2 L1140.2 164.9 L1140.7 163.6 L1141.2 162.3" stroke="#008000"/>
</g>
<g stroke-width="2.0" stroke-linecap="butt" stroke-linejoin="miter">
<path d="M1128.2 175.1L1138.8 185.7M1128.2 185.7L1138.8 175.1" stroke="#0000ff"/>
<path d="M1129.8 175.1L1140.4 185.7M1129.8 185.7L1140.4 175.1" stroke="#0000ff"/>
<path d="M1131.4 175.1L1142.0 185.7M1131.4 185.7L1142.0 175.1" stroke="#0000ff"/>
<path d="M1133.0 175.1L1143.6 185.7M1133.0 185.7L1143.6 175.1" stroke="#0000ff"/>
<path d="M1134.6 175.1L1145.2 185.7M1134.6 185.7L1145.2 175.1" stroke="#0000ff"/>
<path d="M1136.2 175.1L1146.8 185.7M1136.2 185.7L1146.8 175.1" stroke="#0000ff"/>
<path d="M1137.8 175.1L1148.4 185.7M1137.8 185.7L1148.4 175.1" stroke="#0000ff"/>
<path d="M1139.4 175.1L1150.0 185.7M1139.4 185.7L1150.0 175.1" stroke="#0000ff"/>
<path d="M1141.0 175.1L1151.6 185.7M1141.0 185.7L1151.6 175.1" stroke="#0000ff"/>
<path d="M1142.6 175.1L1153.2 185.7M1142.6 185.7L1153.2 175.1" stroke="#0000ff"/>
<path d="M1144.2 175.1L1154.8 185.7M1144.2 185.7L1154.8 175.1" stroke="#0000ff"/>
<path d="M1145.8 175.1L1156.4 185.7M1145.8 185.7L1156.4 175.1" stroke="#0000ff"/>
<path d="M1147.4 175.1L1158.0 185.7M1147.4 185.7L1158.0 175.1" stroke="#0000ff"/>
<path d="M1149.0 175.1L1159.6 185.7M1149.0 185.7L1159.6 175.1" stroke="#0000ff"/>
<path d="M1150.6 175.1L1161.2 185.7M1150.6 185.7L1161.2 175.1" stroke="#0000ff"/>
<path d="M1152.2 175.1L1162.8 185.7M1152.2 185.7L1162.8 175.1" stroke="#0000ff"/>
<path d="M1153.8 175.1L1164.4 185.7M1153.8 185.7L1164.4 175.1" stroke="#0000ff"/>
<path d="M1155.4 175.1L1166.0 185.7M1155.4 185.7L1166.0 175.1" stroke="#0000ff"/>
<path d="M1109.7 182.7L1120.3 193.3M1109.7 193.3L1120.3 182.7" stroke="#0000ff"/>
<path d="M1117.2 182.7L1127.8 193.3M1117.2 193.3L1127.8 182.7" stroke="#0000ff"/>
<path d="M1122.7 182.7L1133.3 193.3M1122.7 193.3L1133.3 182.7" stroke="#0000ff"/>
<path d="M1062.2 267.5L1072.8 278.1M1062.2 278.1L1072.8 267.5" stroke="#0000ff"/>
<path d="M1072.5 259.3L1083.1 269.9M1072.5 269.9L1083.1 259.3" stroke="#0000ff"/>
<path d="M1081.4 259.3L1092.0 269.9M1081.4 269.9L1092.0 259.3" stroke="#0000ff"/>
<path d="M1088.0 259.3L1098.6 269.9M1088.0 269.9L1098.6 259.3" stroke="#0000ff"/>
<path d="M1093.9 259.3L1104.5 269.9M1093.9 269.9L1104.5 259.3" stroke="#0000ff"/>
<path d="M1034.7 343.9L1045.3 354.5M1034.7 354.5L1045.3 343.9" stroke="#0000ff"/>
<path d="M1043.6 343.9L1054.2 354.5M1043.6 354.5L1054.2 343.9" stroke="#0000ff"/>
<path d="M1052.4 343.9L1063.0 354.5M1052.4 354.5L1063.0 343.9" stroke="#0000ff"/>
<path d="M936.8 428.0L947.4 438.6M936.8 438.6L947.4 428.0" stroke="#0000ff"/>
<path d="M948.9 428.0L959.5 438.6M948.9 438.6L959.5 428.0" stroke="#0000ff"/>
<path d="M961.0 428.0L971.6 438.6M961.0 438.6L971.6 428.0" stroke="#0000ff"/>
<path d="M973.9 428.0L984.5 438.6M973.9 438.6L984.5 428.0" stroke="#0000ff"/>
<path d="M987.2 428.0L997.8 438.6M987.2 438.6L997.8 428.0" stroke="#0000ff"/>
<path d="M1000.7 428.0L1011.3 438.6M1000.7 438.6L1011.3 428.0" stroke="#0000ff"/>
<path d="M1014.8 428.0L1025.4 438.6M1014.8 438.6L1025.4 428.0" stroke="#0000ff"/>
<path d="M925.7 489.6L936.3 500.2M925.7 500.2L936.3 489.6" stroke="#0000ff"/>
<path d="M879.6 504.4L890.2 515.0M879.6 515.0L890.2 504.4" stroke="#0000ff"/>
<path d="M882.0 504.4L892.6 515.0M882.0 515.0L892.6 504.4" stroke="#0000ff"/>
<path d="M884.4 504.4L895.0 515.0M884.4 515.0L895.0 504.4" stroke="#0000ff"/>
<path d="M886.8 504.4L897.4 515.0M886.8 515.0L897.4 504.4" stroke="#0000ff"/>
<path d="M889.2 504.4L899.8 515.0M889.2 515.0L899.8 504.4" stroke="#0000ff"/>
<path d="M891.6 504.4L902.2 515.0M891.6 515.0L902.2 504.4" stroke="#0000ff"/>
<path d="M894.8 504.4L905.4 515.0M894.8 515.0L905.4 504.4" stroke="#0000ff"/>
<path d="M898.0 504.4L908.6 515.0M898.0 515.0L908.6 504.4" stroke="#0000ff"/>
<path d="M902.1 504.4L912.7 515.0M902.1 515.0L912.7 504.4" stroke="#0000ff"/>
<path d="M906.9 504.4L917.5 515.0M906.9 515.0L917.5 504.4" stroke="#0000ff"/>
<path d="M911.7 504.4L922.3 515.0M911.7 515.0L922.3 504.4" stroke="#0000ff"/>
<path d="M917.3 504.4L927.9 515.0M917.3 515.0L927.9 504.4" stroke="#0000ff"/>
<path d="M869.7 512.1L880.3 522.7M869.7 522.7L880.3 512.1" stroke="#0000ff"/>
<path d="M871.2 512.1L881.8 522.7M871.2 522.7L881.8 512.1" stroke="#0000ff"/>
<path d="M872.7 512.1L883.3 522.7M872.7 522.7L883.3 512.1" stroke="#0000ff"/>
<path d="M874.2 512.1L884.8 522.7M874.2 522.7L884.8 512.1" stroke="#0000ff"/>
<path d="M875.7 512.1L886.3 522.7M875.7 522.7L886.3 512.1" stroke="#0000ff"/>
<path d="M877.2 512.1L887.8 522.7M877.2 522.7L887.8 512.1" stroke="#0000ff"/>
<path d="M886.0 491.3L891.3 486.0L896.6 491.3L891.3 496.6Z" stroke="#ff8000"/>
<path d="M896.4 491.3L901.7 486.0L907.0 491.3L901.7 496.6Z" stroke="#ff8000"/>
<path d="M917.7 485.7L923.0 480.4L928.3 485.7L923.0 491.0Z" stroke="#ff8000"/>
<path d="M931.9 482.8L937.2 477.5L942.5 482.8L937.2 488.1Z" stroke="#ff8000"/>
<path d="M967.3 406.2L972.6 400.9L977.9 406.2L972.6 411.5Z" stroke="#ff8000"/>
<path d="M956.0 420.0L961.3 414.7L966.6 420.0L961.3 425.3Z" stroke="#ff8000"/>
<path d="M998.3 375.1L1003.6 369.8L1008.9 375.1L1003.6 380.4Z" stroke="#ff8000"/>
<path d="M1023.0 352.5L1028.3 347.2L1033.6 352.5L1028.3 357.8Z" stroke="#ff8000"/>
<path d="M1062.4 306.9L1067.7 301.6L1073.0 306.9L1067.7 312.2Z" stroke="#ff8000"/>
<path d="M1102.0 254.5L1107.3 249.2L1112.6 254.5L1107.3 259.8Z" stroke="#ff8000"/>
<path d="M1110.8 244.2L1116.1 238.9L1121.4 244.2L1116.1 249.5Z" stroke="#ff8000"/>
<path d="M1102.7 236.1L1108.0 230.8L1113.3 236.1L1108.0 241.4Z" stroke="#ff8000"/>
<path d="M1122.6 232.4L1127.9 227.1L1133.2 232.4L1127.9 237.7Z" stroke="#ff8000"/>
<path d="M1133.6 190.6L1138.9 185.3L1144.2 190.6L1138.9 195.9Z" stroke="#ff8000"/>
<path d="M1143.6 179.2L1148.9 173.9L1154.2 179.2L1148.9 184.5Z" stroke="#ff8000"/>
<path d="M1154.2 168.1L1159.5 162.8L1164.8 168.1L1159.5 173.4Z" stroke="#ff8000"/>
<path d="M1164.5 156.4L1169.8 151.1L1175.1 156.4L1169.8 161.7Z" stroke="#ff8000"/>
<path d="M1174.8 142.4L1180.1 137.1L1185.4 142.4L1180.1 147.7Z" stroke="#ff8000"/>
<path d="M1185.1 127.7L1190.4 122.4L1195.7 127.7L1190.4 133.0Z" stroke="#ff8000"/>
<path d="M1195.3 113.3L1200.6 108.0L1205.9 113.3L1200.6 118.6Z" stroke="#ff8000"/>
<path d="M1205.6 99.9L1210.9 94.6L1216.2 99.9L1210.9 105.2Z" stroke="#ff8000"/>
<path d="M1216.1 82.8L1221.4 77.5L1226.7 82.8L1221.4 88.1Z" stroke="#ff8000"/>
<path d="M1226.2 63.0L1231.5 57.7L1236.8 63.0L1231.5 68.3Z" stroke="#ff8000"/>
<path d="M1236.3 40.3L1241.6 35.0L1246.9 40.3L1241.6 45.6Z" stroke="#ff8000"/>
<path d="M1245.9 20.5L1251.2 15.2L1256.5 20.5L1251.2 25.8Z" stroke="#ff8000"/>
<path d="M1290.9 18.7L1301.5 29.3M1290.9 29.3L1301.5 18.7M1290.9 24.0L1301.5 24.0M1296.2 18.7L1296.2 29.3" stroke="#800080"/>
<path d="M1273.7 52.3L1284.3 62.9M1273.7 62.9L1284.3 52.3M1273.7 57.6L1284.3 57.6M1279.0 52.3L1279.0 62.9" stroke="#800080"/>
<path d="M1282.5 52.3L1293.1 62.9M1282.5 62.9L1293.1 52.3M1282.5 57.6L1293.1 57.6M1287.8 52.3L1287.8 62.9" stroke="#800080"/>
<path d="M1264.8 69.4L1275.4 80.0M1264.8 80.0L1275.4 69.4M1264.8 74.7L1275.4 74.7M1270.1 69.4L1270.1 80.0" stroke="#800080"/>
<path d="M1268.2 69.4L1278.8 80.0M1268.2 80.0L1278.8 69.4M1268.2 74.7L1278.8 74.7M1273.5 69.4L1273.5 80.0" stroke="#800080"/>
<path d="M1271.6 69.4L1282.2 80.0M1271.6 80.0L1282.2 69.4M1271.6 74.7L1282.2 74.7M1276.9 69.4L1276.9 80.0" stroke="#800080"/>
<path d="M1245.5 86.7L1256.1 97.3M1245.5 97.3L1256.1 86.7M1245.5 92.0L1256.1 92.0M1250.8 86.7L1250.8 97.3" stroke="#800080"/>
<path d="M1252.2 86.7L1262.8 97.3M1252.2 97.3L1262.8 86.7M1252.2 92.0L1262.8 92.0M1257.5 86.7L1257.5 97.3" stroke="#800080"/>
<path d="M1258.1 86.7L1268.7 97.3M1258.1 97.3L1268.7 86.7M1258.1 92.0L1268.7 92.0M1263.4 86.7L1263.4 97.3" stroke="#800080"/>
<path d="M1262.3 86.7L1272.9 97.3M1262.3 97.3L1272.9 86.7M1262.3 92.0L1272.9 92.0M1267.6 86.7L1267.6 97.3" stroke="#800080"/>
<path d="M1236.3 105.2L1246.9 115.8M1236.3 115.8L1246.9 105.2M1236.3 110.5L1246.9 110.5M1241.6 105.2L1241.6 115.8" stroke="#800080"/>
<path d="M1239.2 105.2L1249.8 115.8M1239.2 115.8L1249.8 105.2M1239.2 110.5L1249.8 110.5M1244.5 105.2L1244.5 115.8" stroke="#800080"/>
<path d="M1242.2 105.2L1252.8 115.8M1242.2 115.8L1252.8 105.2M1242.2 110.5L1252.8 110.5M1247.5 105.2L1247.5 115.8" stroke="#800080"/>
<path d="M1249.1 105.2L1259.7 115.8M1249.1 115.8L1259.7 105.2M1249.1 110.5L1259.7 110.5M1254.4 105.2L1254.4 115.8" stroke="#800080"/>
<path d="M1255.2 105.2L1265.8 115.8M1255.2 115.8L1265.8 105.2M1255.2 110.5L1265.8 110.5M1260.5 105.2L1260.5 115.8" stroke="#800080"/>
<path d="M1260.3 105.2L1270.9 115.8M1260.3 115.8L1270.9 105.2M1260.3 110.5L1270.9 110.5M1265.6 105.2L1265.6 115.8" stroke="#800080"/>
<path d="M1215.7 120.2L1226.3 130.8M1215.7 130.8L1226.3 120.2M1215.7 125.5L1226.3 125.5M1221.0 120.2L1221.0 130.8" stroke="#800080"/>
<path d="M1221.7 120.2L1232.3 130.8M1221.7 130.8L1232.3 120.2M1221.7 125.5L1232.3 125.5M1227.0 120.2L1227.0 130.8" stroke="#800080"/>
<path d="M1226.7 120.2L1237.3 130.8M1226.7 130.8L1237.3 120.2M1226.7 125.5L1237.3 125.5M1232.0 120.2L1232.0 130.8" stroke="#800080"/>
<path d="M1231.7 120.2L1242.3 130.8M1231.7 130.8L1242.3 120.2M1231.7 125.5L1242.3 125.5M1237.0 120.2L1237.0 130.8" stroke="#800080"/>
<path d="M1236.7 120.2L1247.3 130.8M1236.7 130.8L1247.3 120.2M1236.7 125.5L1247.3 125.5M1242.0 120.2L1242.0 130.8" stroke="#800080"/>
<path d="M1241.7 120.2L1252.3 130.8M1241.7 130.8L1252.3 120.2M1241.7 125.5L1252.3 125.5M1247.0 120.2L1247.0 130.8" stroke="#800080"/>
<path d="M1248.7 120.2L1259.3 130.8M1248.7 130.8L1259.3 120.2M1248.7 125.5L1259.3 125.5M1254.0 120.2L1254.0 130.8" stroke="#800080"/>
<path d="M1204.7 137.8L1215.3 148.4M1204.7 148.4L1215.3 137.8M1204.7 143.1L1215.3 143.1M1210.0 137.8L1210.0 148.4" stroke="#800080"/>
<path d="M1211.7 137.8L1222.3 148.4M1211.7 148.4L1222.3 137.8M1211.7 143.1L1222.3 143.1M1217.0 137.8L1217.0 148.4" stroke="#800080"/>
<path d="M1217.7 137.8L1228.3 148.4M1217.7 148.4L1228.3 137.8M1217.7 143.1L1228.3 143.1M1223.0 137.8L1223.0 148.4" stroke="#800080"/>
<path d="M1223.7 137.8L1234.3 148.4M1223.7 148.4L1234.3 137.8M1223.7 143.1L1234.3 143.1M1229.0 137.8L1229.0 148.4" stroke="#800080"/>
<path d="M1230.7 137.8L1241.3 148.4M1230.7 148.4L1241.3 137.8M1230.7 143.1L1241.3 143.1M1236.0 137.8L1236.0 148.4" stroke="#800080"/>
<path d="M1237.7 137.8L1248.3 148.4M1237.7 148.4L1248.3 137.8M1237.7 143.1L1248.3 143.1M1243.0 137.8L1243.0 148.4" stroke="#800080"/>
<path d="M1192.9 154.7L1203.5 165.3M1192.9 165.3L1203.5 154.7M1192.9 160.0L1203.5 160.0M1198.2 154.7L1198.2 165.3" stroke="#800080"/>
<path d="M1209.7 154.7L1220.3 165.3M1209.7 165.3L1220.3 154.7M1209.7 160.0L1220.3 160.0M1215.0 154.7L1215.0 165.3" stroke="#800080"/>
<path d="M1212.7 154.7L1223.3 165.3M1212.7 165.3L1223.3 154.7M1212.7 160.0L1223.3 160.0M1218.0 154.7L1218.0 165.3" stroke="#800080"/>
<path d="M1215.7 154.7L1226.3 165.3M1215.7 165.3L1226.3 154.7M1215.7 160.0L1226.3 160.0M1221.0 154.7L1221.0 165.3" stroke="#800080"/>
<path d="M1181.7 171.7L1192.3 182.3M1181.7 182.3L1192.3 171.7M1181.7 177.0L1192.3 177.0M1187.0 171.7L1187.0 182.3" stroke="#800080"/>
<path d="M1187.7 171.7L1198.3 182.3M1187.7 182.3L1198.3 171.7M1187.7 177.0L1198.3 177.0M1193.0 171.7L1193.0 182.3" stroke="#800080"/>
<path d="M1193.7 171.7L1204.3 182.3M1193.7 182.3L1204.3 171.7M1193.7 177.0L1204.3 177.0M1199.0 171.7L1199.0 182.3" stroke="#800080"/>
<path d="M1199.7 171.7L1210.3 182.3M1199.7 182.3L1210.3 171.7M1199.7 177.0L1210.3 177.0M1205.0 171.7L1205.0 182.3" stroke="#800080"/>
<path d="M1204.7 171.7L1215.3 182.3M1204.7 182.3L1215.3 171.7M1204.7 177.0L1215.3 177.0M1210.0 171.7L1210.0 182.3" stroke="#800080"/>
<path d="M1160.7 189.3L1171.3 199.9M1160.7 199.9L1171.3 189.3M1160.7 194.6L1171.3 194.6M1166.0 189.3L1166.0 199.9" stroke="#800080"/>
<path d="M1166.7 189.3L1177.3 199.9M1166.7 199.9L1177.3 189.3M1166.7 194.6L1177.3 194.6M1172.0 189.3L1172.0 199.9" stroke="#800080"/>
<path d="M1172.7 189.3L1183.3 199.9M1172.7 199.9L1183.3 189.3M1172.7 194.6L1183.3 194.6M1178.0 189.3L1178.0 199.9" stroke="#800080"/>
<path d="M1178.7 189.3L1189.3 199.9M1178.7 199.9L1189.3 189.3M1178.7 194.6L1189.3 194.6M1184.0 189.3L1184.0 199.9" stroke="#800080"/>
<path d="M1184.7 189.3L1195.3 199.9M1184.7 199.9L1195.3 189.3M1184.7 194.6L1195.3 194.6M1190.0 189.3L1190.0 199.9" stroke="#800080"/>
<path d="M1190.7 189.3L1201.3 199.9M1190.7 199.9L1201.3 189.3M1190.7 194.6L1201.3 194.6M1196.0 189.3L1196.0 199.9" stroke="#800080"/>
<path d="M1147.7 205.7L1158.3 216.3M1147.7 216.3L1158.3 205.7M1147.7 211.0L1158.3 211.0M1153.0 205.7L1153.0 216.3" stroke="#800080"/>
<path d="M1153.7 205.7L1164.3 216.3M1153.7 216.3L1164.3 205.7M1153.7 211.0L1164.3 211.0M1159.0 205.7L1159.0 216.3" stroke="#800080"/>
<path d="M1157.7 205.7L1168.3 216.3M1157.7 216.3L1168.3 205.7M1157.7 211.0L1168.3 211.0M1163.0 205.7L1163.0 216.3" stroke="#800080"/>
<path d="M1161.7 205.7L1172.3 216.3M1161.7 216.3L1172.3 205.7M1161.7 211.0L1172.3 211.0M1167.0 205.7L1167.0 216.3" stroke="#800080"/>
<path d="M1166.7 205.7L1177.3 216.3M1166.7 216.3L1177.3 205.7M1166.7 211.0L1177.3 211.0M1172.0 205.7L1172.0 216.3" stroke="#800080"/>
<path d="M1173.7 205.7L1184.3 216.3M1173.7 216.3L1184.3 205.7M1173.7 211.0L1184.3 211.0M1179.0 205.7L1179.0 216.3" stroke="#800080"/>
<path d="M1131.2 223.4L1141.8 234.0M1131.2 234.0L1141.8 223.4M1131.2 228.7L1141.8 228.7M1136.5 223.4L1136.5 234.0" stroke="#800080"/>
<path d="M1133.7 223.4L1144.3 234.0M1133.7 234.0L1144.3 223.4M1133.7 228.7L1144.3 228.7M1139.0 223.4L1139.0 234.0" stroke="#800080"/>
<path d="M1136.2 223.4L1146.8 234.0M1136.2 234.0L1146.8 223.4M1136.2 228.7L1146.8 228.7M1141.5 223.4L1141.5 234.0" stroke="#800080"/>
<path d="M1138.7 223.4L1149.3 234.0M1138.7 234.0L1149.3 223.4M1138.7 228.7L1149.3 228.7M1144.0 223.4L1144.0 234.0" stroke="#800080"/>
<path d="M1141.2 223.4L1151.8 234.0M1141.2 234.0L1151.8 223.4M1141.2 228.7L1151.8 228.7M1146.5 223.4L1146.5 234.0" stroke="#800080"/>
<path d="M1143.7 223.4L1154.3 234.0M1143.7 234.0L1154.3 223.4M1143.7 228.7L1154.3 228.7M1149.0 223.4L1149.0 234.0" stroke="#800080"/>
<path d="M1146.2 223.4L1156.8 234.0M1146.2 234.0L1156.8 223.4M1146.2 228.7L1156.8 228.7M1151.5 223.4L1151.5 234.0" stroke="#800080"/>
<path d="M1148.7 223.4L1159.3 234.0M1148.7 234.0L1159.3 223.4M1148.7 228.7L1159.3 228.7M1154.0 223.4L1154.0 234.0" stroke="#800080"/>
<path d="M1150.9 223.4L1161.5 234.0M1150.9 234.0L1161.5 223.4M1150.9 228.7L1161.5 228.7M1156.2 223.4L1156.2 234.0" stroke="#800080"/>
<path d="M1117.7 240.3L1128.3 250.9M1117.7 250.9L1128.3 240.3M1117.7 245.6L1128.3 245.6M1123.0 240.3L1123.0 250.9" stroke="#800080"/>
<path d="M1122.7 240.3L1133.3 250.9M1122.7 250.9L1133.3 240.3M1122.7 245.6L1133.3 245.6M1128.0 240.3L1128.0 250.9" stroke="#800080"/>
<path d="M1127.7 240.3L1138.3 250.9M1127.7 250.9L1138.3 240.3M1127.7 245.6L1138.3 245.6M1133.0 240.3L1133.0 250.9" stroke="#800080"/>
<path d="M1137.3 240.3L1147.9 250.9M1137.3 250.9L1147.9 240.3M1137.3 245.6L1147.9 245.6M1142.6 240.3L1142.6 250.9" stroke="#800080"/>
<path d="M1101.7 258.7L1112.3 269.3M1101.7 269.3L1112.3 258.7M1101.7 264.0L1112.3 264.0M1107.0 258.7L1107.0 269.3" stroke="#800080"/>
<path d="M1106.7 258.7L1117.3 269.3M1106.7 269.3L1117.3 258.7M1106.7 264.0L1117.3 264.0M1112.0 258.7L1112.0 269.3" stroke="#800080"/>
<path d="M1110.7 258.7L1121.3 269.3M1110.7 269.3L1121.3 258.7M1110.7 264.0L1121.3 264.0M1116.0 258.7L1116.0 269.3" stroke="#800080"/>
<path d="M1071.7 274.9L1082.3 285.5M1071.7 285.5L1082.3 274.9M1071.7 280.2L1082.3 280.2M1077.0 274.9L1077.0 285.5" stroke="#800080"/>
<path d="M1074.7 274.9L1085.3 285.5M1074.7 285.5L1085.3 274.9M1074.7 280.2L1085.3 280.2M1080.0 274.9L1080.0 285.5" stroke="#800080"/>
<path d="M1077.7 274.9L1088.3 285.5M1077.7 285.5L1088.3 274.9M1077.7 280.2L1088.3 280.2M1083.0 274.9L1083.0 285.5" stroke="#800080"/>
<path d="M1080.7 274.9L1091.3 285.5M1080.7 285.5L1091.3 274.9M1080.7 280.2L1091.3 280.2M1086.0 274.9L1086.0 285.5" stroke="#800080"/>
<path d="M1083.7 274.9L1094.3 285.5M1083.7 285.5L1094.3 274.9M1083.7 280.2L1094.3 280.2M1089.0 274.9L1089.0 285.5" stroke="#800080"/>
<path d="M1086.7 274.9L1097.3 285.5M1086.7 285.5L1097.3 274.9M1086.7 280.2L1097.3 280.2M1092.0 274.9L1092.0 285.5" stroke="#800080"/>
<path d="M1089.7 274.9L1100.3 285.5M1089.7 285.5L1100.3 274.9M1089.7 280.2L1100.3 280.2M1095.0 274.9L1095.0 285.5" stroke="#800080"/>
<path d="M1092.7 274.9L1103.3 285.5M1092.7 285.5L1103.3 274.9M1092.7 280.2L1103.3 280.2M1098.0 274.9L1098.0 285.5" stroke="#800080"/>
<path d="M1095.0 274.9L1105.6 285.5M1095.0 285.5L1105.6 274.9M1095.0 280.2L1105.6 280.2M1100.3 274.9L1100.3 285.5" stroke="#800080"/>
<path d="M1058.4 290.7L1069.0 301.3M1058.4 301.3L1069.0 290.7M1058.4 296.0L1069.0 296.0M1063.7 290.7L1063.7 301.3" stroke="#800080"/>
<path d="M1061.7 290.7L1072.3 301.3M1061.7 301.3L1072.3 290.7M1061.7 296.0L1072.3 296.0M1067.0 290.7L1067.0 301.3" stroke="#800080"/>
<path d="M1065.1 290.7L1075.7 301.3M1065.1 301.3L1075.7 290.7M1065.1 296.0L1075.7 296.0M1070.4 290.7L1070.4 301.3" stroke="#800080"/>
<path d="M1039.9 308.2L1050.5 318.8M1039.9 318.8L1050.5 308.2M1039.9 313.5L1050.5 313.5M1045.2 308.2L1045.2 318.8" stroke="#800080"/>
<path d="M1048.7 308.2L1059.3 318.8M1048.7 318.8L1059.3 308.2M1048.7 313.5L1059.3 313.5M1054.0 308.2L1054.0 318.8" stroke="#800080"/>
<path d="M1006.8 325.2L1017.4 335.8M1006.8 335.8L1017.4 325.2M1006.8 330.5L1017.4 330.5M1012.1 325.2L1012.1 335.8" stroke="#800080"/>
<path d="M1023.0 325.2L1033.6 335.8M1023.0 335.8L1033.6 325.2M1023.0 330.5L1033.6 330.5M1028.3 325.2L1028.3 335.8" stroke="#800080"/>
<path d="M1034.7 325.2L1045.3 335.8M1034.7 335.8L1045.3 325.2M1034.7 330.5L1045.3 330.5M1040.0 325.2L1040.0 335.8" stroke="#800080"/>
<path d="M989.2 341.4L999.8 352.0M989.2 352.0L999.8 341.4M989.2 346.7L999.8 346.7M994.5 341.4L994.5 352.0" stroke="#800080"/>
<path d="M996.5 341.4L1007.1 352.0M996.5 352.0L1007.1 341.4M996.5 346.7L1007.1 346.7M1001.8 341.4L1001.8 352.0" stroke="#800080"/>
<path d="M1023.3 344.7L1033.9 355.3M1023.3 355.3L1033.9 344.7M1023.3 350.0L1033.9 350.0M1028.6 344.7L1028.6 355.3" stroke="#800080"/>
<path d="M983.3 360.5L993.9 371.1M983.3 371.1L993.9 360.5M983.3 365.8L993.9 365.8M988.6 360.5L988.6 371.1" stroke="#800080"/>
<path d="M939.3 395.0L949.9 405.6M939.3 405.6L949.9 395.0M939.3 400.3L949.9 400.3M944.6 395.0L944.6 405.6" stroke="#800080"/>
<path d="M954.8 395.0L965.4 405.6M954.8 405.6L965.4 395.0M954.8 400.3L965.4 400.3M960.1 395.0L960.1 405.6" stroke="#800080"/>
<path d="M892.4 519.6L897.7 509.0L903.0 519.6Z" stroke="#ff0000"/>
<path d="M901.3 519.6L906.6 509.0L911.9 519.6Z" stroke="#ff0000"/>
<path d="M910.5 519.6L915.8 509.0L921.1 519.6Z" stroke="#ff0000"/>
<path d="M920.5 519.6L925.8 509.0L931.1 519.6Z" stroke="#ff0000"/>
<path d="M931.9 519.6L937.2 509.0L942.5 519.6Z" stroke="#ff0000"/>
<path d="M944.2 517.2L949.5 506.6L954.8 517.2Z" stroke="#ff0000"/>
<path d="M957.8 517.2L963.1 506.6L968.4 517.2Z" stroke="#ff0000"/>
<path d="M910.3 463.3L915.6 452.7L920.9 463.3Z" stroke="#ff0000"/>
<path d="M932.2 449.8L937.5 439.2L942.8 449.8Z" stroke="#ff0000"/>
<path d="M1021.8 356.4L1027.1 345.8L1032.4 356.4Z" stroke="#ff0000"/>
<path d="M1025.2 347.8L1030.5 337.2L1035.8 347.8Z" stroke="#ff0000"/>
<path d="M1026.7 345.3L1032.0 334.7L1037.3 345.3Z" stroke="#ff0000"/>
<path d="M1028.2 342.8L1033.5 332.2L1038.8 342.8Z" stroke="#ff0000"/>
<path d="M1029.4 340.3L1034.7 329.7L1040.0 340.3Z" stroke="#ff0000"/>
<path d="M1034.0 347.7L1039.3 337.1L1044.6 347.7Z" stroke="#ff0000"/>
<path d="M1036.1 344.7L1041.4 334.1L1046.7 344.7Z" stroke="#ff0000"/>
<path d="M1038.2 341.7L1043.5 331.1L1048.8 341.7Z" stroke="#ff0000"/>
<path d="M1040.3 338.7L1045.6 328.1L1050.9 338.7Z" stroke="#ff0000"/>
<path d="M1042.4 335.7L1047.7 325.1L1053.0 335.7Z" stroke="#ff0000"/>
<path d="M1044.4 332.7L1049.7 322.1L1055.0 332.7Z" stroke="#ff0000"/>
<path d="M1104.2 269.1L1109.5 258.5L1114.8 269.1Z" stroke="#ff0000"/>
<path d="M1111.5 269.1L1116.8 258.5L1122.1 269.1Z" stroke="#ff0000"/>
<path d="M1118.6 190.7L1123.9 180.1L1129.2 190.7Z" stroke="#ff0000"/>
</g>
<path d="M745.5 494.9 L747.2 494.2 L748.9 493.4 L750.6 492.6 L752.3 491.8 L754.0 491.0 L755.7 490.3 L757.3 489.5 L759.0 488.7 L760.7 487.9 L762.4 487.1 L764.1 486.3 L765.8 485.5 L767.5 484.8 L769.1 484.0 L770.8 483.2 L772.5 482.4 L774.2 481.6 L775.9 480.8 L777.6 480.0 L779.2 479.2 L780.9 478.4 L782.6 477.6 L784.3 476.8 L786.0 476.0 L787.6 475.2 L789.3 474.3 L791.0 473.5 L792.7 472.7 L794.4 471.9 L796.0 471.1 L797.7 470.3 L799.4 469.4 L801.1 468.6 L802.7 467.8 L804.4 467.0 L806.1 466.1 L807.8 465.3 L809.4 464.5 L811.1 463.7 L812.8 462.8 L814.5 462.0 L816.1 461.1 L817.8 460.3 L819.5 459.5 L821.1 458.6 L822.8 457.8 L824.5 456.9 L826.1 456.1 L827.8 455.2 L829.5 454.4 L831.1 453.5 L832.8 452.7 L834.5 451.8 L836.1 451.0 L837.8 450.1 L839.4 449.2 L841.1 448.4 L842.8 447.5 L844.4 446.6 L846.1 445.8 L847.7 444.9 L849.4 444.0 L851.0 443.2 L852.7 442.3 L854.3 441.4 L856.0 440.5 L857.6 439.6 L859.3 438.7 L860.9 437.9 L862.6 437.0 L864.2 436.1 L865.9 435.2 L867.5 434.3 L869.2 433.4 L870.8 432.5 L872.4 431.6 L874.1 430.7 L875.7 429.8 L877.4 428.9 L879.0 428.0 L880.6 427.1 L882.3 426.1 L883.9 425.2 L885.5 424.3 L887.2 423.4 L888.8 422.5 L890.4 421.6 L892.1 420.6 L893.7 419.7 L895.3 418.8 L896.9 417.8 L898.6 416.9 L900.2 416.0 L901.8 415.0 L903.4 414.1 L905.0 413.1 L906.7 412.2 L908.3 411.3 L909.9 410.3 L911.5 409.4 L913.1 408.4 L914.7 407.4 L916.3 406.5 L917.9 405.5 L919.5 404.6 L921.1 403.6 L922.7 402.6 L924.3 401.7 L925.9 400.7 L927.5 399.7 L929.1 398.7 L930.7 397.8 L932.3 396.8 L933.9 395.8 L935.5 394.8 L937.1 393.8 L938.7 392.8 L940.3 391.9 L941.9 390.9 L943.4 389.9 L945.0 388.9 L946.6 387.9 L948.2 386.9 L949.8 385.9 L951.3 384.8 L952.9 383.8 L954.5 382.8 L956.0 381.8 L957.6 380.8 L959.2 379.8 L960.7 378.7 L962.3 377.7 L963.9 376.7 L965.4 375.7 L967.0 374.6 L968.5 373.6 L970.1 372.6 L971.6 371.5 L973.2 370.5 L974.7 369.4 L976.3 368.4 L977.8 367.3 L979.4 366.3 L980.9 365.2 L982.5 364.2 L984.0 363.1 L985.5 362.0 L987.1 361.0 L988.6 359.9 L990.1 358.8 L991.7 357.8 L993.2 356.7 L994.7 355.6 L996.2 354.5 L997.8 353.4 L999.3 352.4 L1000.8 351.3 L1002.3 350.2 L1003.8 349.1 L1005.3 348.0 L1006.8 346.9 L1008.3 345.8 L1009.8 344.7 L1011.3 343.6 L1012.8 342.5 L1014.3 341.3 L1015.8 340.2 L1017.3 339.1 L1018.8 338.0 L1020.3 336.9 L1021.8 335.7 L1023.3 334.6 L1024.8 333.5 L1026.2 332.3 L1027.7 331.2 L1029.2 330.1 L1030.7 328.9 L1032.1 327.8 L1033.6 326.6 L1035.1 325.5 L1036.5 324.3 L1038.0 323.1 L1039.4 322.0 L1040.9 320.8 L1042.4 319.7 L1043.8 318.5 L1045.3 317.3 L1046.7 316.1 L1048.2 315.0 L1049.6 313.8 L1051.0 312.6 L1052.5 311.4 L1053.9 310.2 L1055.3 309.0 L1056.8 307.8 L1058.2 306.6 L1059.6 305.4 L1061.0 304.2 L1062.5 303.0 L1063.9 301.8 L1065.3 300.6 L1066.7 299.4 L1068.1 298.2 L1069.5 296.9 L1070.9 295.7 L1072.3 294.5 L1073.7 293.2 L1075.1 292.0 L1076.5 290.8 L1077.9 289.5 L1079.3 288.3 L1080.7 287.0 L1082.1 285.8 L1083.4 284.5 L1084.8 283.3 L1086.2 282.0 L1087.6 280.8 L1088.9 279.5 L1090.3 278.2 L1091.7 276.9 L1093.0 275.7 L1094.4 274.4 L1095.7 273.1 L1097.1 271.8 L1098.5 270.5 L1099.8 269.2 L1101.1 267.9 L1102.5 266.7 L1103.8 265.3 L1105.2 264.0 L1106.5 262.7 L1107.8 261.4 L1109.1 260.1 L1110.5 258.8 L1111.8 257.5 L1113.1 256.2 L1114.4 254.8 L1115.7 253.5 L1117.0 252.2 L1118.4 250.8 L1119.7 249.5 L1121.0 248.2 L1122.3 246.8 L1123.5 245.5 L1124.8 244.1 L1126.1 242.8 L1127.4 241.4 L1128.7 240.0 L1130.0 238.7 L1131.2 237.3 L1132.5 236.0 L1133.8 234.6 L1135.1 233.2 L1136.3 231.8 L1137.6 230.4 L1138.8 229.1 L1140.1 227.7 L1141.3 226.3 L1142.6 224.9 L1143.8 223.5 L1145.1 222.1 L1146.3 220.7 L1147.6 219.3 L1148.8 217.9 L1150.0 216.5 L1151.2 215.1 L1152.5 213.7 L1153.7 212.3 L1154.9 210.8 L1156.1 209.4 L1157.3 208.0 L1158.5 206.6 L1159.7 205.1 L1160.9 203.7 L1162.1 202.3 L1163.3 200.8 L1164.5 199.4 L1165.7 197.9 L1166.9 196.5 L1168.1 195.0 L1169.3 193.6 L1170.4 192.1 L1171.6 190.7 L1172.8 189.2 L1173.9 187.7 L1175.1 186.3 L1176.3 184.8 L1177.4 183.3 L1178.6 181.9 L1179.7 180.4 L1180.9 178.9 L1182.0 177.4 L1183.1 175.9 L1184.3 174.5 L1185.4 173.0 L1186.5 171.5 L1187.7 170.0 L1188.8 168.5 L1189.9 167.0 L1191.0 165.5 L1192.1 164.0 L1193.2 162.5 L1194.3 161.0 L1195.4 159.5 L1196.5 157.9 L1197.6 156.4 L1198.7 154.9 L1199.8 153.4 L1200.9 151.9 L1201.9 150.3 L1203.0 148.8 L1204.1 147.3 L1205.2 145.7 L1206.2 144.2 L1207.3 142.7 L1208.3 141.1 L1209.4 139.6 L1210.5 138.0 L1211.5 136.5 L1212.5 134.9 L1213.6 133.4 L1214.6 131.8 L1215.7 130.3 L1216.7 128.7 L1217.7 127.1 L1218.7 125.6 L1219.7 124.0 L1220.8 122.4 L1221.8 120.9 L1222.8 119.3 L1223.8 117.7 L1224.8 116.1 L1225.8 114.6 L1226.8 113.0 L1227.8 111.4 L1228.7 109.8 L1229.7 108.2 L1230.7 106.6 L1231.7 105.0 L1232.6 103.4 L1233.6 101.8 L1234.6 100.2 L1235.5 98.6 L1236.5 97.0 L1237.4 95.4 L1238.3 93.8 L1239.3 92.2 L1240.2 90.6 L1241.1 88.9 L1242.1 87.3 L1243.0 85.7 L1243.9 84.1 L1244.8 82.4 L1245.7 80.8 L1246.6 79.2 L1247.5 77.5 L1248.4 75.9 L1249.3 74.3 L1250.2 72.6 L1251.1 71.0 L1251.9 69.3 L1252.8 67.7 L1253.7 66.0 L1254.5 64.4 L1255.4 62.7 L1256.2 61.0 L1257.1 59.4 L1257.9 57.7 L1258.8 56.1 L1259.6 54.4 L1260.4 52.7 L1261.2 51.0 L1262.0 49.4 L1262.8 47.7 L1263.7 46.0 L1264.4 44.3 L1265.2 42.6 L1266.0 40.9 L1266.8 39.2 L1267.6 37.5 L1268.4 35.8 L1269.1 34.1 L1269.9 32.4 L1270.6 30.7 L1271.4 29.0 L1272.1 27.3 L1272.9 25.6 L1273.6 23.9 L1274.3 22.2 L1275.0 20.4 L1275.7 18.7 L1276.5 17.0 L1277.2 15.3 L1277.9 13.5 L1278.5 11.8 L1279.2 10.1 L1279.9 8.3 L1280.6 6.6 L1281.2 4.8" stroke="#000" stroke-width="4.9" stroke-linejoin="round"/>
</g>
<g fill="none" stroke="#000" stroke-linecap="butt">
<rect x="134.7" y="6.9" width="1225.6" height="595.9" stroke-width="2.1" stroke-linejoin="round"/>
<path d="M747.5 6.9V602.8" stroke-width="2.1"/>
<path d="M747.5 507.1h-5.8M747.5 372.3h-5.8M747.5 276.6h-5.8M747.5 202.4h-5.8M747.5 141.7h-5.8M747.5 90.5h-5.8M747.5 46.1h-5.8" stroke-width="1.6"/>
</g>
<g fill="none" stroke-width="4.9">
<path d="M167.0 43.3H246.2" stroke="#000"/>
<path d="M167.0 63.9H246.2" stroke="#008000"/>
<path d="M167.0 84.5H246.2" stroke="#808080"/>
<path d="M167.0 105.1H246.2" stroke="#008000" stroke-dasharray="9.9 9.6"/>
<path d="M167.0 125.7H246.2" stroke="#808080" stroke-dasharray="9.9 9.6"/>
</g>
<g fill="none" stroke-width="2" stroke-linejoin="miter">
<path d="M201.1 152.6L206.4 142.0L211.7 152.6Z" stroke="#ff0000"/>
<path d="M201.1 162.4L211.7 173.0M201.1 173.0L211.7 162.4" stroke="#0000ff"/>
<path d="M201.1 183.3L211.7 193.9M201.1 193.9L211.7 183.3M201.1 188.6L211.7 188.6M206.4 183.3L206.4 193.9" stroke="#800080"/>
<path d="M201.1 208.6L206.4 203.3L211.7 208.6L206.4 213.9Z" stroke="#ff8000"/>
</g>
<g fill="#000">
<text x="91.6" y="26.4" font-size="28.2" letter-spacing="1.69" textLength="35.1" lengthAdjust="spacingAndGlyphs">90</text>
<text x="1367.7" y="26.4" font-size="28.2" letter-spacing="1.69" textLength="35.1" lengthAdjust="spacingAndGlyphs">90</text>
<text x="91.6" y="57.1" font-size="28.2" letter-spacing="1.66" textLength="34.9" lengthAdjust="spacingAndGlyphs">80</text>
<text x="1367.7" y="57.1" font-size="28.2" letter-spacing="1.66" textLength="34.9" lengthAdjust="spacingAndGlyphs">80</text>
<text x="91.6" y="101.5" font-size="28.2" letter-spacing="1.69" textLength="35.1" lengthAdjust="spacingAndGlyphs">70</text>
<text x="1367.7" y="101.5" font-size="28.2" letter-spacing="1.69" textLength="35.1" lengthAdjust="spacingAndGlyphs">70</text>
<text x="91.6" y="152.7" font-size="28.2" letter-spacing="1.69" textLength="35.1" lengthAdjust="spacingAndGlyphs">60</text>
<text x="1367.7" y="152.7" font-size="28.2" letter-spacing="1.69" textLength="35.1" lengthAdjust="spacingAndGlyphs">60</text>
<text x="91.6" y="213.4" font-size="28.2" letter-spacing="1.67" textLength="35.0" lengthAdjust="spacingAndGlyphs">50</text>
<text x="1367.7" y="213.4" font-size="28.2" letter-spacing="1.67" textLength="35.0" lengthAdjust="spacingAndGlyphs">50</text>
<text x="91.9" y="287.6" font-size="28.2" letter-spacing="1.36" textLength="34.1" lengthAdjust="spacingAndGlyphs">40</text>
<text x="1368.0" y="287.6" font-size="28.2" letter-spacing="1.36" textLength="34.1" lengthAdjust="spacingAndGlyphs">40</text>
<text x="91.6" y="383.3" font-size="28.2" letter-spacing="1.66" textLength="34.9" lengthAdjust="spacingAndGlyphs">30</text>
<text x="1367.7" y="383.3" font-size="28.2" letter-spacing="1.66" textLength="34.9" lengthAdjust="spacingAndGlyphs">30</text>
<text x="91.6" y="518.1" font-size="28.2" letter-spacing="1.69" textLength="35.1" lengthAdjust="spacingAndGlyphs">20</text>
<text x="1367.7" y="518.1" font-size="28.2" letter-spacing="1.69" textLength="35.1" lengthAdjust="spacingAndGlyphs">20</text>
<text x="216.0" y="642.6" font-size="28.2" letter-spacing="1.19" textLength="34.2" lengthAdjust="spacingAndGlyphs">20</text>
<text x="354.6" y="642.6" font-size="28.2" letter-spacing="1.16" textLength="34.2" lengthAdjust="spacingAndGlyphs">30</text>
<text x="453.6" y="642.6" font-size="28.2" letter-spacing="0.86" textLength="33.2" lengthAdjust="spacingAndGlyphs">40</text>
<text x="529.3" y="642.6" font-size="28.2" letter-spacing="1.17" textLength="34.3" lengthAdjust="spacingAndGlyphs">50</text>
<text x="591.6" y="642.6" font-size="28.2" letter-spacing="1.19" textLength="34.3" lengthAdjust="spacingAndGlyphs">60</text>
<text x="644.4" y="642.6" font-size="28.2" letter-spacing="1.19" textLength="34.2" lengthAdjust="spacingAndGlyphs">70</text>
<text x="690.1" y="642.6" font-size="28.2" letter-spacing="1.16" textLength="34.2" lengthAdjust="spacingAndGlyphs">80</text>
<text x="730.4" y="642.6" font-size="28.2" letter-spacing="1.19" textLength="34.2" lengthAdjust="spacingAndGlyphs">90</text>
<text x="860.3" y="642.6" font-size="28.2" letter-spacing="1.50" textLength="63.1" lengthAdjust="spacingAndGlyphs">−0.5</text>
<text x="1050.0" y="642.6" font-size="28.2" letter-spacing="1.36" textLength="42.8" lengthAdjust="spacingAndGlyphs">0.0</text>
<text x="1230.2" y="642.6" font-size="28.2" letter-spacing="1.39" textLength="42.9" lengthAdjust="spacingAndGlyphs">0.5</text>
<text x="334.3" y="675.3" font-size="26.8" textLength="13.4" lengthAdjust="spacingAndGlyphs">T</text>
<text x="361.4" y="675.3" font-size="26.8" letter-spacing="2.53" textLength="45.1" lengthAdjust="spacingAndGlyphs"><tspan font-size="29.7">[</tspan>K<tspan font-size="29.7">]</tspan></text>
<text x="417.7" y="675.3" font-size="26.8" letter-spacing="1.80" textLength="77.0" lengthAdjust="spacingAndGlyphs"><tspan font-size="29.7">(</tspan>from</text>
<text x="508.6" y="675.3" font-size="26.8" letter-spacing="1.44" textLength="38.7" lengthAdjust="spacingAndGlyphs">fit<tspan font-size="29.7">)</tspan></text>
<text x="862.4" y="675.3" font-size="26.8" textLength="57.7" lengthAdjust="spacingAndGlyphs">IRAS</text>
<text x="934.9" y="675.3" font-size="26.8" textLength="87.6" lengthAdjust="spacingAndGlyphs">COLOR</text>
<text x="1039.3" y="675.3" font-size="26.8" textLength="18.1" lengthAdjust="spacingAndGlyphs">=</text>
<text x="1072.6" y="675.3" font-size="26.8" textLength="67.1" lengthAdjust="spacingAndGlyphs">log<tspan font-size="29.7">(</tspan>S</text>
<text x="1141.9" y="681.4" font-size="16.0" font-weight="bold" letter-spacing="1.22" textLength="21.5" lengthAdjust="spacingAndGlyphs">60</text>
<text x="1182.5" y="675.3" font-size="26.8" textLength="15.5" lengthAdjust="spacingAndGlyphs">S</text>
<text x="1201.0" y="681.4" font-size="16.0" font-weight="bold" letter-spacing="1.06" textLength="31.2" lengthAdjust="spacingAndGlyphs">100</text>
<text x="1232.6" y="675.3" font-size="29.7" textLength="9.7" lengthAdjust="spacingAndGlyphs">)</text>
<text transform="translate(67.9 427.1) rotate(-90)" x="-0.9" y="0.0" font-size="28.5" textLength="14.3" lengthAdjust="spacingAndGlyphs">T</text>
<text transform="translate(67.9 427.1) rotate(-90)" x="12.3" y="6.8" font-size="16.0" font-weight="bold" textLength="10.9" lengthAdjust="spacingAndGlyphs">d</text>
<text transform="translate(67.9 427.1) rotate(-90)" x="37.4" y="0.0" font-size="28.5" letter-spacing="1.44" textLength="43.1" lengthAdjust="spacingAndGlyphs"><tspan font-size="31.5">[</tspan>K<tspan font-size="31.5">]</tspan></text>
<text transform="translate(67.9 427.1) rotate(-90)" x="92.4" y="0.0" font-size="31.5" textLength="10.9" lengthAdjust="spacingAndGlyphs">(</text>
<text transform="translate(67.9 427.1) rotate(-90)" x="141.3" y="0.0" font-size="28.5" textLength="13.0" lengthAdjust="spacingAndGlyphs">1</text>
<text transform="translate(67.9 427.1) rotate(-90)" x="176.6" y="0.0" font-size="28.5" textLength="16.1" lengthAdjust="spacingAndGlyphs">λ</text>
<text transform="translate(67.9 427.1) rotate(-90)" x="193.1" y="6.8" font-size="16.0" font-weight="bold" textLength="37.8" lengthAdjust="spacingAndGlyphs">peak</text>
<text transform="translate(67.9 427.1) rotate(-90)" x="232.2" y="0.0" font-size="31.5" textLength="12.6" lengthAdjust="spacingAndGlyphs">)</text>
<text transform="translate(1430.6 427.1) rotate(-90)" x="-0.9" y="0.0" font-size="28.5" textLength="14.3" lengthAdjust="spacingAndGlyphs">T</text>
<text transform="translate(1430.6 427.1) rotate(-90)" x="12.3" y="6.8" font-size="16.0" font-weight="bold" textLength="10.9" lengthAdjust="spacingAndGlyphs">d</text>
<text transform="translate(1430.6 427.1) rotate(-90)" x="37.4" y="0.0" font-size="28.5" letter-spacing="1.44" textLength="43.1" lengthAdjust="spacingAndGlyphs"><tspan font-size="31.5">[</tspan>K<tspan font-size="31.5">]</tspan></text>
<text transform="translate(1430.6 427.1) rotate(-90)" x="92.4" y="0.0" font-size="31.5" textLength="10.9" lengthAdjust="spacingAndGlyphs">(</text>
<text transform="translate(1430.6 427.1) rotate(-90)" x="141.3" y="0.0" font-size="28.5" textLength="13.0" lengthAdjust="spacingAndGlyphs">1</text>
<text transform="translate(1430.6 427.1) rotate(-90)" x="176.6" y="0.0" font-size="28.5" textLength="16.1" lengthAdjust="spacingAndGlyphs">λ</text>
<text transform="translate(1430.6 427.1) rotate(-90)" x="193.1" y="6.8" font-size="16.0" font-weight="bold" textLength="37.8" lengthAdjust="spacingAndGlyphs">peak</text>
<text transform="translate(1430.6 427.1) rotate(-90)" x="232.2" y="0.0" font-size="31.5" textLength="12.6" lengthAdjust="spacingAndGlyphs">)</text>
<text x="258.0" y="49.0" font-size="16.0" stroke="#000" stroke-width="0.50" letter-spacing="0.85" textLength="89.1" lengthAdjust="spacingAndGlyphs">Unmodified</text>
<text x="356.3" y="49.0" font-size="16.0" stroke="#000" stroke-width="0.50" letter-spacing="1.17" textLength="56.2" lengthAdjust="spacingAndGlyphs">BB Fit:</text>
<text x="418.1" y="49.0" font-size="16.0" stroke="#000" stroke-width="0.50" textLength="11.4" lengthAdjust="spacingAndGlyphs">B</text>
<text x="430.2" y="52.2" font-size="10.5" stroke="#000" stroke-width="0.50" textLength="7.1" lengthAdjust="spacingAndGlyphs">ν</text>
<text x="437.8" y="49.0" font-size="16.0" stroke="#000" stroke-width="0.50" letter-spacing="0.06" textLength="20.8" lengthAdjust="spacingAndGlyphs">(T)</text>
<text x="257.9" y="69.6" font-size="16.0" fill="#008000" stroke="#008000" stroke-width="0.50" letter-spacing="1.05" textLength="129.6" lengthAdjust="spacingAndGlyphs">Modified BB Fit,</text>
<text x="395.1" y="69.6" font-size="16.0" fill="#008000" stroke="#008000" stroke-width="0.50" letter-spacing="0.72" textLength="131.7" lengthAdjust="spacingAndGlyphs">General Opacity:</text>
<text x="535.0" y="69.6" font-size="16.0" fill="#008000" stroke="#008000" stroke-width="0.50" letter-spacing="0.87" textLength="36.9" lengthAdjust="spacingAndGlyphs">Eq 1</text>
<text x="257.9" y="90.2" font-size="16.0" fill="#808080" stroke="#808080" stroke-width="0.50" letter-spacing="1.05" textLength="129.6" lengthAdjust="spacingAndGlyphs">Modified BB Fit,</text>
<text x="395.0" y="90.2" font-size="16.0" fill="#808080" stroke="#808080" stroke-width="0.50" letter-spacing="1.16" textLength="109.9" lengthAdjust="spacingAndGlyphs">optically thin:</text>
<text x="511.8" y="90.2" font-size="16.0" fill="#808080" stroke="#808080" stroke-width="0.50" letter-spacing="1.47" textLength="39.3" lengthAdjust="spacingAndGlyphs">Eq 2</text>
<text x="257.9" y="110.9" font-size="16.0" fill="#008000" stroke="#008000" stroke-width="0.50" letter-spacing="1.05" textLength="129.6" lengthAdjust="spacingAndGlyphs">Modified BB Fit,</text>
<text x="395.3" y="110.9" font-size="16.0" fill="#008000" stroke="#008000" stroke-width="0.50" letter-spacing="0.69" textLength="152.0" lengthAdjust="spacingAndGlyphs">General+Powerlaw:</text>
<text x="554.4" y="110.9" font-size="16.0" fill="#008000" stroke="#008000" stroke-width="0.50" letter-spacing="1.55" textLength="39.3" lengthAdjust="spacingAndGlyphs">Eq 4</text>
<text x="257.9" y="131.4" font-size="16.0" fill="#808080" stroke="#808080" stroke-width="0.50" letter-spacing="1.05" textLength="129.6" lengthAdjust="spacingAndGlyphs">Modified BB Fit,</text>
<text x="395.1" y="131.4" font-size="16.0" fill="#808080" stroke="#808080" stroke-width="0.50" letter-spacing="0.40" textLength="110.1" lengthAdjust="spacingAndGlyphs">OT+Powerlaw:</text>
<text x="513.3" y="131.4" font-size="16.0" fill="#808080" stroke="#808080" stroke-width="0.50" letter-spacing="1.77" textLength="40.5" lengthAdjust="spacingAndGlyphs">Eq 5</text>
<text x="259.0" y="152.7" font-size="16.0" fill="#ff0000" stroke="#ff0000" stroke-width="0.50" letter-spacing="1.18" textLength="206.1" lengthAdjust="spacingAndGlyphs">Chary &amp; Elbaz Templates</text>
<text x="258.4" y="173.3" font-size="16.0" fill="#0000ff" stroke="#0000ff" stroke-width="0.50" letter-spacing="1.23" textLength="197.8" lengthAdjust="spacingAndGlyphs">Dale &amp; Helou Templates</text>
<text x="258.5" y="193.9" font-size="16.0" fill="#800080" stroke="#800080" stroke-width="0.50" letter-spacing="1.18" textLength="283.2" lengthAdjust="spacingAndGlyphs">Siebenmorgen &amp; Krugel Templates</text>
<text x="258.4" y="214.5" font-size="16.0" fill="#ff8000" stroke="#ff8000" stroke-width="0.50" letter-spacing="1.28" textLength="182.5" lengthAdjust="spacingAndGlyphs">Draine &amp; Li Templates</text>
<path transform="translate(67.9 427.1) rotate(-90)" d="M123.1 -14.3C120.5 -13.8 118.6 -11.4 117.1 -9.4C115.6 -7.2 114.4 -5.1 112.2 -5.1C109.8 -5.1 107.9 -7 107.9 -9.4C107.9 -11.8 109.8 -13.7 112.2 -13.7C114.4 -13.7 115.6 -11.6 117.1 -9.4C118.6 -7.4 120.5 -4.5 123.1 -3.9" fill="none" stroke="#000" stroke-width="2.1" stroke-linecap="round"/>
<path transform="translate(1430.6 427.1) rotate(-90)" d="M123.1 -14.3C120.5 -13.8 118.6 -11.4 117.1 -9.4C115.6 -7.2 114.4 -5.1 112.2 -5.1C109.8 -5.1 107.9 -7 107.9 -9.4C107.9 -11.8 109.8 -13.7 112.2 -13.7C114.4 -13.7 115.6 -11.6 117.1 -9.4C118.6 -7.4 120.5 -4.5 123.1 -3.9" fill="none" stroke="#000" stroke-width="2.1" stroke-linecap="round"/>
<path transform="translate(67.9 427.1) rotate(-90)" d="M159.3 6.3L173.8 -22.2" fill="none" stroke="#000" stroke-width="2.1"/>
<path transform="translate(1430.6 427.1) rotate(-90)" d="M159.3 6.3L173.8 -22.2" fill="none" stroke="#000" stroke-width="2.1"/>
<path d="M1163.9 681.6L1180.2 653.4" fill="none" stroke="#000" stroke-width="2.1"/>
</g>
</svg>
</body></html>
